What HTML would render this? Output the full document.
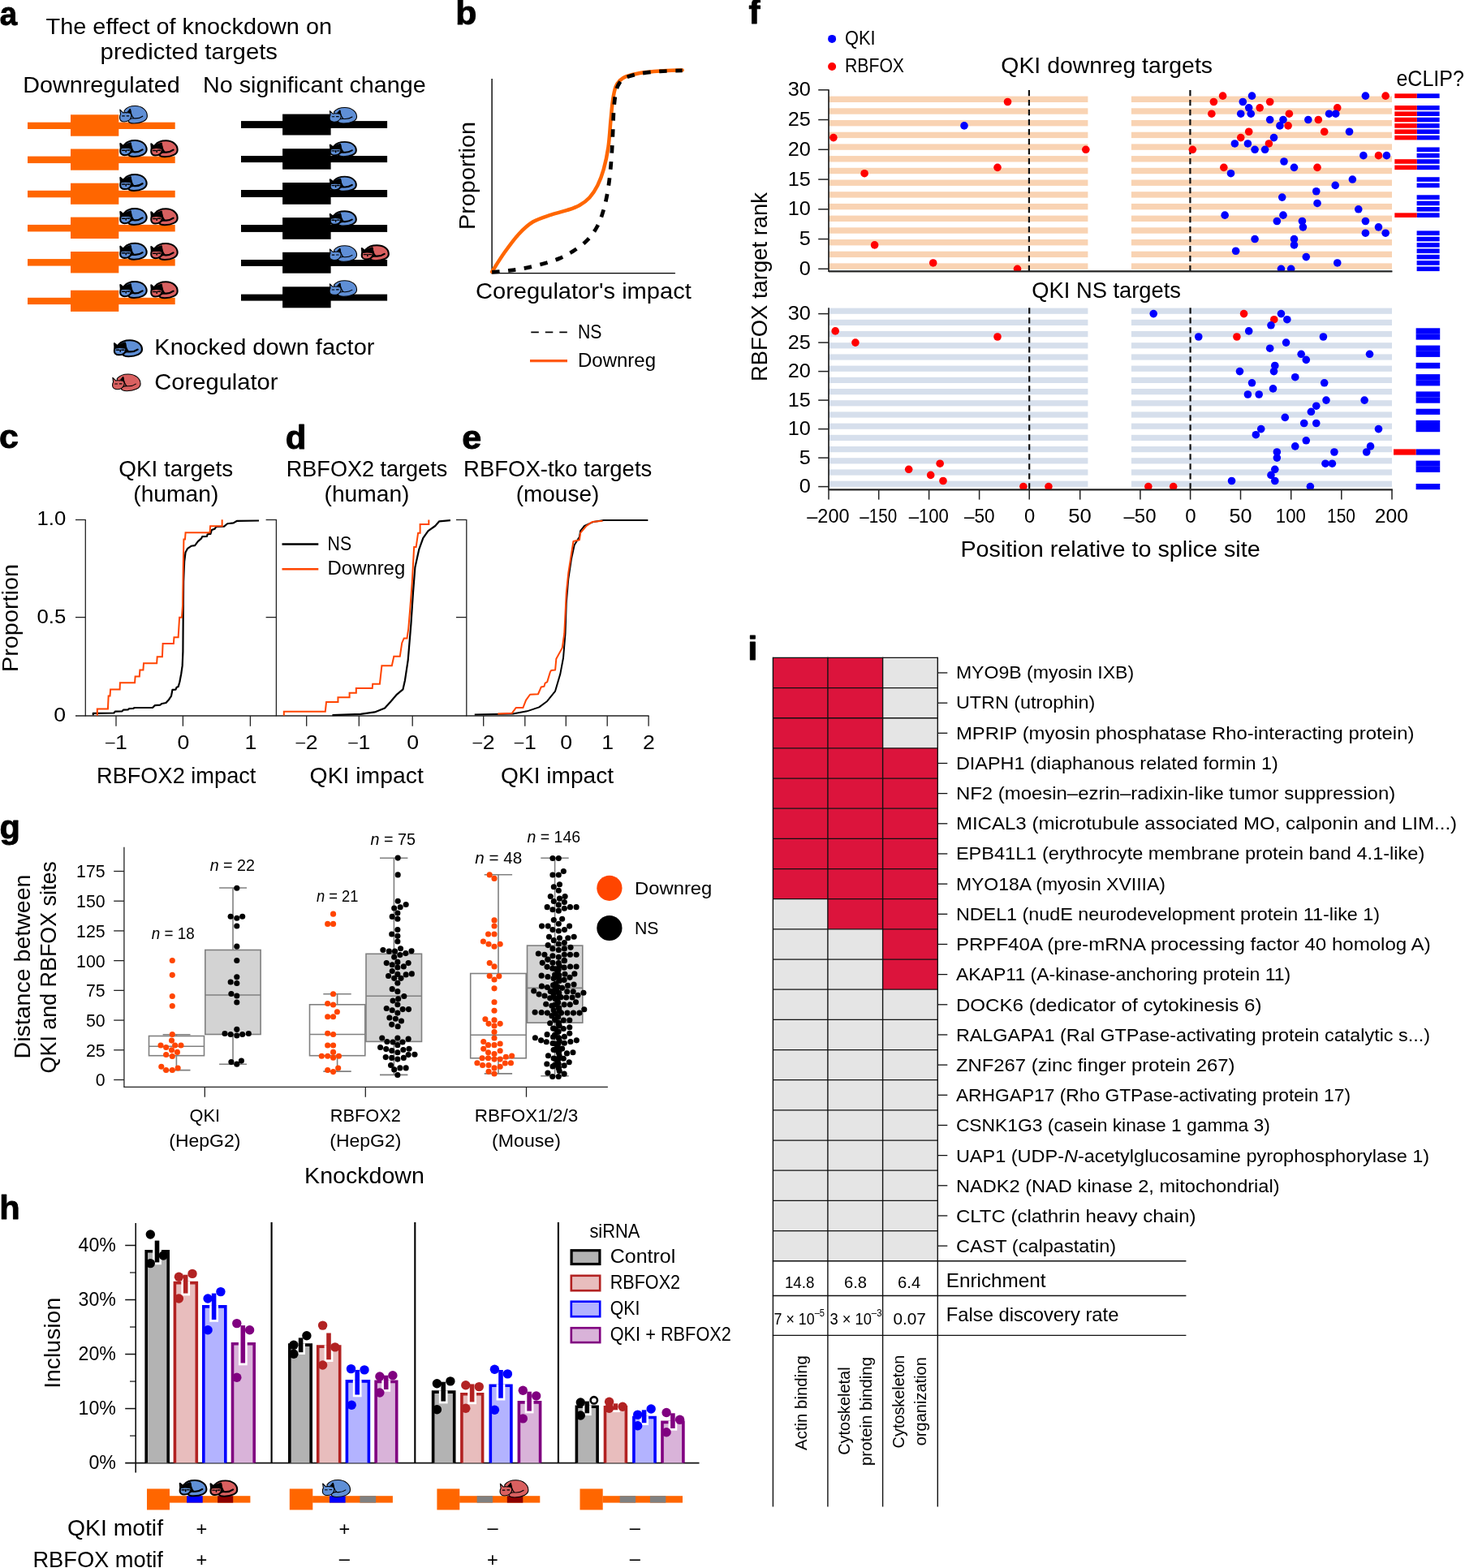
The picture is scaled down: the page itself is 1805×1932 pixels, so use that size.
<!DOCTYPE html>
<html lang="en"><head><meta charset="utf-8"><title>Figure</title>
<style>html,body{margin:0;padding:0;background:#fff}svg{display:block}text{font-family:'Liberation Sans', sans-serif;fill:#000}</style>
</head><body>
<svg width="1805" height="1932" viewBox="0 0 1805 1932">
<rect width="1805" height="1932" fill="#fff"/>
<defs>
<g id="catT" stroke="#000" stroke-width="1.1" stroke-linejoin="round" stroke-linecap="round">
<path d="M6.3 6.2 C9 2.6 14 0.6 19.5 0.6 C28 0.6 34.2 6 34.2 12.8 C34.2 18.3 27 21.8 18 21.8 C14.2 21.8 11.4 20.6 10.9 18.4 L6 14 Z"/>
<path d="M13.6 4.6 C14 8.5 15 12.5 17.6 15.6 C21 16.1 25.5 15.4 28.6 13.1" fill="none"/>
<path d="M11 18.2 C12 16.7 14.5 15.7 17.6 15.6" fill="none"/>
<path d="M0.7 14.8 C0.7 12.6 1.1 11.4 1.7 10.6 L1 5.1 L4.8 8.9 C6.3 8.5 8.2 8.5 9.6 8.8 L13.3 4.4 L14.5 10.7 C15 11.8 15 13.2 14.5 14.3 C13.6 17.4 10.2 19.8 6.2 19.8 C3 19.8 0.7 17.8 0.7 14.8 Z"/>
<path d="M10.6 8.6 L13.3 4.4 L14 9.6 Z" fill="#000" stroke-width="0.6"/>
<path d="M3.8 12.9 L6.4 12.9 M9.2 12.7 L11.8 12.7" fill="none" stroke-width="1.2"/>
</g>
<g id="catB" stroke="#000" stroke-width="2.1" stroke-linejoin="round" stroke-linecap="round">
<path d="M6.3 6.2 C9 2.6 14 0.9 19.5 0.9 C28 0.9 34 6 34 12.6 C34 18 27 21.5 18 21.5 C14.2 21.5 11.4 20.4 10.9 18.4 L6 14 Z"/>
<path d="M13.6 4.6 C14 8.5 15 12.5 17.6 15.4 C21 15.9 25.5 15 28.8 12.6" fill="none" stroke-width="2.3"/>
<path d="M11 18.2 C12 16.7 14.5 15.6 17.6 15.4" fill="none"/>
<path d="M0.9 14.8 C0.9 13 1.1 11.4 1.6 10.4 C4 9.6 11 9.6 14.6 10.6 C15 12 15 13.2 14.5 14.3 C13.6 17.4 10.2 19.6 6.2 19.6 C3 19.6 0.9 17.6 0.9 14.8 Z"/>
<path d="M1 5 L1.5 10.4 C4 9.6 11 9.6 14.6 10.6 L13.6 4.4 C11.6 4.8 9.6 5.6 8.4 6.6 L6.3 6.2 L4.6 8.2 Z" fill="#000"/>
<path d="M3.4 13.4 L6.4 13.4 M9.6 13.3 L12.6 13.3 M8 13.2 L8 15.4" fill="none" stroke-width="1.5"/>
</g>
</defs>
<text transform="translate(-0.35 30.5) scale(0.96 1)" x="0" y="0" font-size="40" font-weight="bold" stroke="#000" stroke-width="0.9" stroke-linejoin="round">a</text>
<text x="56.6" y="41.5" font-size="27.3" textLength="352.4" lengthAdjust="spacingAndGlyphs">The effect of knockdown on</text>
<text x="123.6" y="72.7" font-size="27.3" textLength="218.4" lengthAdjust="spacingAndGlyphs">predicted targets</text>
<text x="28.3" y="113.7" font-size="27.3" textLength="193.4" lengthAdjust="spacingAndGlyphs">Downregulated</text>
<text x="250" y="113.7" font-size="27.3" textLength="274.6" lengthAdjust="spacingAndGlyphs">No significant change</text>
<rect x="34" y="150.7" width="181.7" height="8.3" fill="#FF6600"/>
<rect x="87" y="141.3" width="59.3" height="26.4" fill="#FF6600"/>
<rect x="34" y="192.6" width="181.7" height="8.5" fill="#FF6600"/>
<rect x="87" y="183.5" width="59.3" height="26.2" fill="#FF6600"/>
<rect x="34" y="234.8" width="181.7" height="8.5" fill="#FF6600"/>
<rect x="87" y="225.7" width="59.3" height="26.1" fill="#FF6600"/>
<rect x="34" y="276.9" width="181.7" height="8.5" fill="#FF6600"/>
<rect x="87" y="267.6" width="59.3" height="26.4" fill="#FF6600"/>
<rect x="34" y="319.1" width="181.7" height="8.5" fill="#FF6600"/>
<rect x="87" y="310" width="59.3" height="26.4" fill="#FF6600"/>
<rect x="34" y="366.8" width="181.7" height="8.3" fill="#FF6600"/>
<rect x="87" y="357.7" width="59.3" height="26.2" fill="#FF6600"/>
<rect x="297" y="149.1" width="180.1" height="8.8" fill="#000"/>
<rect x="348.1" y="140.6" width="59.5" height="25.9" fill="#000"/>
<rect x="297" y="192" width="180.1" height="8.1" fill="#000"/>
<rect x="348.1" y="183.2" width="59.5" height="25.5" fill="#000"/>
<rect x="297" y="234" width="180.1" height="9" fill="#000"/>
<rect x="348.1" y="225" width="59.5" height="26.8" fill="#000"/>
<rect x="297" y="277" width="180.1" height="8.9" fill="#000"/>
<rect x="348.1" y="268.1" width="59.5" height="26.7" fill="#000"/>
<rect x="297" y="320" width="180.1" height="7.9" fill="#000"/>
<rect x="348.1" y="310.8" width="59.5" height="25.9" fill="#000"/>
<rect x="297" y="362.6" width="180.1" height="8" fill="#000"/>
<rect x="348.1" y="353.3" width="59.5" height="26" fill="#000"/>
<use href="#catT" fill="#5F8FD6" transform="translate(146.85 129.95) scale(1.01 1.01)"/>
<use href="#catB" fill="#5F8FD6" transform="translate(147.34 172.15) scale(0.98 0.97)"/>
<use href="#catB" fill="#D96060" transform="translate(185.34 172.45) scale(0.98 0.97)"/>
<use href="#catB" fill="#5F8FD6" transform="translate(147.34 214.05) scale(0.98 0.97)"/>
<use href="#catB" fill="#5F8FD6" transform="translate(147.34 256.15) scale(0.98 0.97)"/>
<use href="#catB" fill="#D96060" transform="translate(185.34 256.45) scale(0.98 0.97)"/>
<use href="#catB" fill="#5F8FD6" transform="translate(147.34 298.85) scale(0.98 0.97)"/>
<use href="#catB" fill="#D96060" transform="translate(185.34 299.15) scale(0.98 0.97)"/>
<use href="#catB" fill="#5F8FD6" transform="translate(147.34 346.15) scale(0.98 0.97)"/>
<use href="#catB" fill="#D96060" transform="translate(185.34 346.45) scale(0.98 0.97)"/>
<use href="#catT" fill="#5F8FD6" transform="translate(405.35 131.95) scale(1 0.92)"/>
<use href="#catB" fill="#5F8FD6" transform="translate(405.84 174.13) scale(0.97 0.88)"/>
<use href="#catB" fill="#5F8FD6" transform="translate(405.84 216.83) scale(0.97 0.88)"/>
<use href="#catB" fill="#5F8FD6" transform="translate(405.84 259.43) scale(0.97 0.88)"/>
<use href="#catT" fill="#5F8FD6" transform="translate(405.35 302.25) scale(1 0.92)"/>
<use href="#catT" fill="#5F8FD6" transform="translate(405.35 345.15) scale(1 0.92)"/>
<use href="#catB" fill="#D96060" transform="translate(444.85 301.34) scale(1 0.92)"/>
<use href="#catB" fill="#5F8FD6" transform="translate(139.96 418.34) scale(1.03 0.97)"/>
<use href="#catT" fill="#D96060" transform="translate(137.85 460.35) scale(1.03 0.98)"/>
<text x="190.3" y="437.2" font-size="27.3" textLength="271.2" lengthAdjust="spacingAndGlyphs">Knocked down factor</text>
<text x="190.3" y="480.4" font-size="27.3" textLength="152.2" lengthAdjust="spacingAndGlyphs">Coregulator</text>
<text transform="translate(561.14 30.2) scale(1.07 1)" x="0" y="0" font-size="40" font-weight="bold" stroke="#000" stroke-width="0.9" stroke-linejoin="round">b</text>
<line x1="606.1" y1="96.9" x2="606.1" y2="337.2" stroke="#000" stroke-width="1.4"/>
<line x1="605.4" y1="336.6" x2="832" y2="336.6" stroke="#000" stroke-width="1.4"/>
<path d="M606.09 334.91 C608.74 330.85 616.44 318.34 621.99 310.56 C627.54 302.77 633.58 294.41 639.38 288.2 C645.18 281.99 650.14 277.23 656.77 273.29 C663.4 269.36 672.09 267 679.13 264.6 C686.17 262.19 693.21 260.83 699.01 258.88 C704.8 256.94 709.36 255.49 713.91 252.92 C718.47 250.35 722.61 247.54 726.34 243.48 C730.06 239.42 733.37 234.37 736.27 228.57 C739.17 222.77 741.53 216.56 743.73 208.7 C745.92 200.83 747.99 191.3 749.44 181.37 C750.89 171.43 751.51 158.59 752.42 149.07 C753.33 139.54 753.87 131.26 754.91 124.22 C755.94 117.18 757.18 110.97 758.63 106.83 C760.08 102.69 761.53 101.45 763.6 99.38 C765.67 97.31 766.92 95.98 771.06 94.41 C775.2 92.84 781.41 91.1 788.45 89.94 C795.49 88.78 804.6 88.03 813.29 87.45 C821.99 86.87 836.07 86.63 840.62 86.46" fill="none" stroke="#FF6600" stroke-width="4.5" stroke-linecap="round"/>
<path d="M606.09 335.4 C609.57 335.07 620.17 334.24 626.96 333.42 C633.75 332.59 639.79 331.84 646.83 330.43 C653.87 329.03 662.15 326.96 669.19 324.97 C676.23 322.98 682.86 321.12 689.07 318.51 C695.28 315.9 700.66 313.13 706.46 309.32 C712.26 305.51 718.88 300.83 723.85 295.65 C728.82 290.48 732.96 284.47 736.27 278.26 C739.59 272.05 741.66 265.42 743.73 258.39 C745.8 251.35 747.33 243.89 748.7 236.02 C750.06 228.16 751.06 219.46 751.93 211.18 C752.8 202.9 753.37 194.62 753.91 186.34 C754.45 178.05 754.78 169.77 755.16 161.49 C755.53 153.21 755.57 144.51 756.15 136.65 C756.73 128.78 757.47 120 758.63 114.29 C759.79 108.57 761.04 105.47 763.11 102.36 C765.18 99.25 766.83 97.6 771.06 95.65 C775.28 93.71 781.41 91.97 788.45 90.68 C795.49 89.4 804.6 88.57 813.29 87.95 C821.99 87.33 836.07 87.12 840.62 86.96" fill="none" stroke="#000" stroke-width="4.7" stroke-dasharray="9.5 10.5"/>
<text x="0" y="0" font-size="27.3" text-anchor="middle" textLength="133" lengthAdjust="spacingAndGlyphs" transform="translate(585 216.5) rotate(-90)">Proportion</text>
<text x="586" y="368.4" font-size="27.3" textLength="265.8" lengthAdjust="spacingAndGlyphs">Coregulator&#x27;s impact</text>
<line x1="654.3" y1="409.4" x2="699" y2="409.4" stroke="#000" stroke-width="1.8" stroke-dasharray="9.5 8"/>
<text x="712" y="416.6" font-size="23.6" textLength="29.5" lengthAdjust="spacingAndGlyphs">NS</text>
<line x1="653" y1="444.7" x2="699" y2="444.7" stroke="#FF5A14" stroke-width="3.2"/>
<text x="712" y="451.6" font-size="23.6" textLength="96" lengthAdjust="spacingAndGlyphs">Downreg</text>
<text transform="translate(-0.88 552) scale(1.07 1)" x="0" y="0" font-size="40" font-weight="bold" stroke="#000" stroke-width="0.9" stroke-linejoin="round">c</text>
<text x="216.8" y="587" font-size="27.3" text-anchor="middle" textLength="141" lengthAdjust="spacingAndGlyphs">QKI targets</text>
<text x="216.8" y="618" font-size="27.3" text-anchor="middle" textLength="105" lengthAdjust="spacingAndGlyphs">(human)</text>
<text x="0" y="0" font-size="27.3" text-anchor="middle" textLength="133" lengthAdjust="spacingAndGlyphs" transform="translate(22.3 761.5) rotate(-90)">Proportion</text>
<line x1="105.3" y1="639.9" x2="105.3" y2="882.6" stroke="#222" stroke-width="1.3"/>
<line x1="93" y1="882" x2="340.4" y2="882" stroke="#222" stroke-width="1.3"/>
<line x1="93" y1="640.5" x2="105.3" y2="640.5" stroke="#222" stroke-width="1.3"/>
<line x1="93" y1="760.6" x2="105.3" y2="760.6" stroke="#222" stroke-width="1.3"/>
<line x1="143" y1="882" x2="143" y2="894.8" stroke="#222" stroke-width="1.3"/>
<line x1="225.4" y1="882" x2="225.4" y2="894.8" stroke="#222" stroke-width="1.3"/>
<line x1="308.4" y1="882" x2="308.4" y2="894.8" stroke="#222" stroke-width="1.3"/>
<text x="0" y="0" font-size="23.6" text-anchor="end" transform="translate(81.2 647.4) scale(1.09 1)">1.0</text>
<text x="0" y="0" font-size="23.6" text-anchor="end" transform="translate(81.2 767.6) scale(1.09 1)">0.5</text>
<text x="0" y="0" font-size="23.6" text-anchor="end" transform="translate(81.2 888.6) scale(1.13 1)">0</text>
<text x="0" y="0" font-size="23.6" text-anchor="middle" transform="translate(143.4 922.9) scale(1.13 1)"><tspan font-size="18.41" dy="-2.7">–</tspan><tspan dy="2.7" dx="0.6">1</tspan></text>
<text x="0" y="0" font-size="23.6" text-anchor="middle" transform="translate(225.8 922.9) scale(1.13 1)">0</text>
<text x="0" y="0" font-size="23.6" text-anchor="middle" transform="translate(308.8 922.9) scale(1.13 1)">1</text>
<text x="119" y="964.6" font-size="27.3" textLength="196.4" lengthAdjust="spacingAndGlyphs">RBFOX2 impact</text>
<polyline points="114.78,881.37 114.78,878.78 140.42,878.49 141.86,876.61 150.5,876.33 151.94,874.6 157.7,874.45 159.14,873.16 164.19,873.01 165.63,872.01 187.95,872.01 190.84,869.12 197.32,868.55 199.48,866.96 204.52,865.96 208.12,861.92 211,857.6 212.44,849.97 216.48,849.68 217.48,847.08 219.65,846.08 221.37,840.31 223.25,830.23 224.69,820.15 225.41,802.86 225.7,759.65 226.13,716.43 227.14,691.94 228.58,680.42 231.17,675.81 235.49,672.78 240.1,672.06 243.85,667.17 248.17,663.42 249.18,661.11 254.94,660.97 255.66,658.23 259.4,657.95 260.84,653.05 264.59,651.61 266.46,648.87 276.11,648.58 280.15,645.27 287.64,644.41 291.67,641.96 319.04,641.52" fill="none" stroke="#000" stroke-width="2.2" stroke-linejoin="round"/>
<polyline points="119.82,881.8 119.82,873.45 132.93,873.45 133.65,857.6 135.52,857.6 136.1,849.39 147.62,849.39 147.91,841.32 166.06,841.32 166.63,833.4 171.82,833.4 172.4,825.48 176.43,825.48 177.01,817.27 193.14,817.27 193.72,809.34 199.91,809.34 200.63,793.07 213.88,793.07 214.46,785.14 219.65,785.14 221.09,760.8 223.97,760.8 225.12,745.24 225.7,702.03 226.42,664.57 228,664.57 228.58,656.36 258.54,656.36 259.12,648.29 273.66,648.29 273.66,640.37" fill="none" stroke="#FF4500" stroke-width="2" stroke-linejoin="miter"/>
<text transform="translate(351.74 552.8) scale(1.05 1)" x="0" y="0" font-size="40" font-weight="bold" stroke="#000" stroke-width="0.9" stroke-linejoin="round">d</text>
<text x="352.8" y="587" font-size="27.3" textLength="198.4" lengthAdjust="spacingAndGlyphs">RBFOX2 targets</text>
<text x="452" y="618" font-size="27.3" text-anchor="middle" textLength="105" lengthAdjust="spacingAndGlyphs">(human)</text>
<line x1="340.4" y1="639.9" x2="340.4" y2="882.6" stroke="#222" stroke-width="1.3"/>
<line x1="340.4" y1="882" x2="575" y2="882" stroke="#222" stroke-width="1.3"/>
<line x1="327.6" y1="640.5" x2="340.4" y2="640.5" stroke="#222" stroke-width="1.3"/>
<line x1="327.6" y1="760.6" x2="340.4" y2="760.6" stroke="#222" stroke-width="1.3"/>
<line x1="377.7" y1="882" x2="377.7" y2="894.8" stroke="#222" stroke-width="1.3"/>
<line x1="442.3" y1="882" x2="442.3" y2="894.8" stroke="#222" stroke-width="1.3"/>
<line x1="508.2" y1="882" x2="508.2" y2="894.8" stroke="#222" stroke-width="1.3"/>
<text x="0" y="0" font-size="23.6" text-anchor="middle" transform="translate(378.1 922.9) scale(1.13 1)"><tspan font-size="18.41" dy="-2.7">–</tspan><tspan dy="2.7" dx="0.6">2</tspan></text>
<text x="0" y="0" font-size="23.6" text-anchor="middle" transform="translate(442.7 922.9) scale(1.13 1)"><tspan font-size="18.41" dy="-2.7">–</tspan><tspan dy="2.7" dx="0.6">1</tspan></text>
<text x="0" y="0" font-size="23.6" text-anchor="middle" transform="translate(508.6 922.9) scale(1.13 1)">0</text>
<text x="381.6" y="964.6" font-size="27.3" textLength="140.2" lengthAdjust="spacingAndGlyphs">QKI impact</text>
<line x1="347.5" y1="670.6" x2="392.3" y2="670.6" stroke="#000" stroke-width="2.5"/>
<text x="403.6" y="677.9" font-size="23.6" textLength="29.5" lengthAdjust="spacingAndGlyphs">NS</text>
<line x1="347.5" y1="701.3" x2="392.3" y2="701.3" stroke="#FF4500" stroke-width="2.5"/>
<text x="403.6" y="707.8" font-size="23.6" textLength="95.6" lengthAdjust="spacingAndGlyphs">Downreg</text>
<polyline points="349.83,881.67 349.83,876.7 400.79,876.7 402.03,865.02 416.45,865.02 416.45,859.3 430.61,859.3 430.61,853.83 438.82,853.83 438.82,848.11 458.7,848.11 459.2,842.64 467.9,842.64 470.39,820.27 482.81,820.27 485.3,808.84 492.76,808.84 495.24,792.18 497.73,786.47 501.46,786.47 503.2,774.78 505.19,751.17 507.67,718.86 510.16,674.11 512.64,674.11 515.13,656.71 517.61,656.71 517.61,646.03 528.3,646.03 528.3,640.56" fill="none" stroke="#FF4500" stroke-width="2"/>
<polyline points="409.49,881.17 444.29,879.93 461.69,877.44 474.11,872.47 481.57,864.27 489.03,855.57 496.49,849.36 498.97,838.17 502.7,813.31 506.43,768.57 508.91,731.29 511.4,698.97 516.37,676.6 521.34,662.93 527.56,654.23 536.26,648.01 541.23,642.3 554.9,641.05" fill="none" stroke="#000" stroke-width="2.2" stroke-linejoin="round"/>
<text transform="translate(569.2 553) scale(1.08 1)" x="0" y="0" font-size="40" font-weight="bold" stroke="#000" stroke-width="0.9" stroke-linejoin="round">e</text>
<text x="571.1" y="587" font-size="27.3" textLength="232.2" lengthAdjust="spacingAndGlyphs">RBFOX-tko targets</text>
<text x="687" y="618" font-size="27.3" text-anchor="middle" textLength="102.5" lengthAdjust="spacingAndGlyphs">(mouse)</text>
<line x1="574.8" y1="639.9" x2="574.8" y2="882.6" stroke="#222" stroke-width="1.3"/>
<line x1="574.8" y1="882" x2="799.6" y2="882" stroke="#222" stroke-width="1.3"/>
<line x1="562" y1="640.5" x2="574.8" y2="640.5" stroke="#222" stroke-width="1.3"/>
<line x1="562" y1="760.6" x2="574.8" y2="760.6" stroke="#222" stroke-width="1.3"/>
<line x1="595.7" y1="882" x2="595.7" y2="894.8" stroke="#222" stroke-width="1.3"/>
<line x1="646.8" y1="882" x2="646.8" y2="894.8" stroke="#222" stroke-width="1.3"/>
<line x1="697.3" y1="882" x2="697.3" y2="894.8" stroke="#222" stroke-width="1.3"/>
<line x1="748.2" y1="882" x2="748.2" y2="894.8" stroke="#222" stroke-width="1.3"/>
<line x1="799.1" y1="882" x2="799.1" y2="894.8" stroke="#222" stroke-width="1.3"/>
<text x="0" y="0" font-size="23.6" text-anchor="middle" transform="translate(596.1 922.9) scale(1.13 1)"><tspan font-size="18.41" dy="-2.7">–</tspan><tspan dy="2.7" dx="0.6">2</tspan></text>
<text x="0" y="0" font-size="23.6" text-anchor="middle" transform="translate(647.2 922.9) scale(1.13 1)"><tspan font-size="18.41" dy="-2.7">–</tspan><tspan dy="2.7" dx="0.6">1</tspan></text>
<text x="0" y="0" font-size="23.6" text-anchor="middle" transform="translate(697.7 922.9) scale(1.13 1)">0</text>
<text x="0" y="0" font-size="23.6" text-anchor="middle" transform="translate(748.6 922.9) scale(1.13 1)">1</text>
<text x="0" y="0" font-size="23.6" text-anchor="middle" transform="translate(799.5 922.9) scale(1.13 1)">2</text>
<text x="617" y="964.6" font-size="27.3" textLength="139.1" lengthAdjust="spacingAndGlyphs">QKI impact</text>
<polyline points="584.77,880.57 631.95,879.57 649.33,876.34 664.23,871.38 674.16,863.93 684.09,851.51 690.3,830.4 694.03,810.54 696.51,780.74 697.75,743.49 700.24,713.69 703.96,688.86 707.69,671.48 713.89,661.54 715.14,654.09 720.1,647.89 731.28,642.92 743.69,640.93 798.32,640.93" fill="none" stroke="#000" stroke-width="2" stroke-linejoin="round"/>
<polyline points="613.32,879.57 630.71,878.83 635.67,872.12 644.36,872.12 648.09,862.69 653.05,855.73 662.99,855.24 666.71,846.55 670.44,845.8 671.68,841.58 674.16,840.34 677.89,827.92 679.13,825.93 684.09,825.44 685.34,811.78 692.79,798.12 695.27,780.74 697.75,731.08 700.24,706.24 706.44,667.01 713.89,665.27 715.14,656.58 722.59,647.89 730.03,642.92 742.45,641.68" fill="none" stroke="#FF4500" stroke-width="2" stroke-linejoin="round"/>
<text transform="translate(922.58 29.3) scale(1.05 1)" x="0" y="0" font-size="40" font-weight="bold" stroke="#000" stroke-width="0.9" stroke-linejoin="round">f</text>
<circle cx="1025.1" cy="47.9" r="5" fill="#0000FF"/>
<text x="1041" y="54.8" font-size="23.6" textLength="37.6" lengthAdjust="spacingAndGlyphs">QKI</text>
<circle cx="1025.1" cy="82" r="5" fill="#FF0000"/>
<text x="1041" y="88.9" font-size="23.6" textLength="73" lengthAdjust="spacingAndGlyphs">RBFOX</text>
<text x="1233.3" y="90.2" font-size="27.3" textLength="260.7" lengthAdjust="spacingAndGlyphs">QKI downreg targets</text>
<text x="1720.4" y="106" font-size="27.3" textLength="83.5" lengthAdjust="spacingAndGlyphs">eCLIP?</text>
<text x="1271.3" y="366.7" font-size="27.3" textLength="183.7" lengthAdjust="spacingAndGlyphs">QKI NS targets</text>
<text x="1183.4" y="685.6" font-size="27.3" textLength="369.3" lengthAdjust="spacingAndGlyphs">Position relative to splice site</text>
<text x="0" y="0" font-size="27.3" text-anchor="middle" textLength="233" lengthAdjust="spacingAndGlyphs" transform="translate(945.3 353.5) rotate(-90)">RBFOX target rank</text>
<rect x="1021" y="324.4" width="319.4" height="7.4" fill="#F9D3B3"/>
<rect x="1393.9" y="324.4" width="321.1" height="7.4" fill="#F9D3B3"/>
<rect x="1021" y="309.7" width="319.4" height="7.4" fill="#F9D3B3"/>
<rect x="1393.9" y="309.7" width="321.1" height="7.4" fill="#F9D3B3"/>
<rect x="1021" y="295" width="319.4" height="7.4" fill="#F9D3B3"/>
<rect x="1393.9" y="295" width="321.1" height="7.4" fill="#F9D3B3"/>
<rect x="1021" y="280.3" width="319.4" height="7.4" fill="#F9D3B3"/>
<rect x="1393.9" y="280.3" width="321.1" height="7.4" fill="#F9D3B3"/>
<rect x="1021" y="265.6" width="319.4" height="7.4" fill="#F9D3B3"/>
<rect x="1393.9" y="265.6" width="321.1" height="7.4" fill="#F9D3B3"/>
<rect x="1021" y="250.9" width="319.4" height="7.4" fill="#F9D3B3"/>
<rect x="1393.9" y="250.9" width="321.1" height="7.4" fill="#F9D3B3"/>
<rect x="1021" y="236.2" width="319.4" height="7.4" fill="#F9D3B3"/>
<rect x="1393.9" y="236.2" width="321.1" height="7.4" fill="#F9D3B3"/>
<rect x="1021" y="221.5" width="319.4" height="7.4" fill="#F9D3B3"/>
<rect x="1393.9" y="221.5" width="321.1" height="7.4" fill="#F9D3B3"/>
<rect x="1021" y="206.8" width="319.4" height="7.4" fill="#F9D3B3"/>
<rect x="1393.9" y="206.8" width="321.1" height="7.4" fill="#F9D3B3"/>
<rect x="1021" y="192.1" width="319.4" height="7.4" fill="#F9D3B3"/>
<rect x="1393.9" y="192.1" width="321.1" height="7.4" fill="#F9D3B3"/>
<rect x="1021" y="177.4" width="319.4" height="7.4" fill="#F9D3B3"/>
<rect x="1393.9" y="177.4" width="321.1" height="7.4" fill="#F9D3B3"/>
<rect x="1021" y="162.7" width="319.4" height="7.4" fill="#F9D3B3"/>
<rect x="1393.9" y="162.7" width="321.1" height="7.4" fill="#F9D3B3"/>
<rect x="1021" y="148" width="319.4" height="7.4" fill="#F9D3B3"/>
<rect x="1393.9" y="148" width="321.1" height="7.4" fill="#F9D3B3"/>
<rect x="1021" y="133.3" width="319.4" height="7.4" fill="#F9D3B3"/>
<rect x="1393.9" y="133.3" width="321.1" height="7.4" fill="#F9D3B3"/>
<rect x="1021" y="118.6" width="319.4" height="7.4" fill="#F9D3B3"/>
<rect x="1393.9" y="118.6" width="321.1" height="7.4" fill="#F9D3B3"/>
<line x1="1021" y1="110.2" x2="1021" y2="335.1" stroke="#222" stroke-width="1.7"/>
<line x1="1021" y1="334.4" x2="1715.3" y2="334.4" stroke="#222" stroke-width="1.6"/>
<line x1="1008.2" y1="331.3" x2="1021" y2="331.3" stroke="#222" stroke-width="1.5"/>
<text x="0" y="0" font-size="24.3" text-anchor="end" transform="translate(998.8 338.9) scale(1.04 1)">0</text>
<line x1="1008.2" y1="294.55" x2="1021" y2="294.55" stroke="#222" stroke-width="1.5"/>
<text x="0" y="0" font-size="24.3" text-anchor="end" transform="translate(998.8 302.15) scale(1.04 1)">5</text>
<line x1="1008.2" y1="257.8" x2="1021" y2="257.8" stroke="#222" stroke-width="1.5"/>
<text x="0" y="0" font-size="24.3" text-anchor="end" transform="translate(998.8 265.4) scale(1.04 1)">10</text>
<line x1="1008.2" y1="221.05" x2="1021" y2="221.05" stroke="#222" stroke-width="1.5"/>
<text x="0" y="0" font-size="24.3" text-anchor="end" transform="translate(998.8 228.65) scale(1.04 1)">15</text>
<line x1="1008.2" y1="184.3" x2="1021" y2="184.3" stroke="#222" stroke-width="1.5"/>
<text x="0" y="0" font-size="24.3" text-anchor="end" transform="translate(998.8 191.9) scale(1.04 1)">20</text>
<line x1="1008.2" y1="147.55" x2="1021" y2="147.55" stroke="#222" stroke-width="1.5"/>
<text x="0" y="0" font-size="24.3" text-anchor="end" transform="translate(998.8 155.15) scale(1.04 1)">25</text>
<line x1="1008.2" y1="110.8" x2="1021" y2="110.8" stroke="#222" stroke-width="1.5"/>
<text x="0" y="0" font-size="24.3" text-anchor="end" transform="translate(998.8 118.4) scale(1.04 1)">30</text>
<line x1="1267.9" y1="110.9" x2="1267.9" y2="334.4" stroke="#111" stroke-width="2.2" stroke-dasharray="7.4 4.6"/>
<line x1="1466.4" y1="110.9" x2="1466.4" y2="334.4" stroke="#111" stroke-width="2.2" stroke-dasharray="7.4 4.6"/>
<rect x="1745.6" y="115.35" width="28" height="5.6" fill="#0000FF"/>
<rect x="1745.6" y="130.05" width="28" height="5.6" fill="#0000FF"/>
<rect x="1745.6" y="137.4" width="28" height="5.6" fill="#0000FF"/>
<rect x="1745.6" y="144.75" width="28" height="5.6" fill="#0000FF"/>
<rect x="1745.6" y="152.1" width="28" height="5.6" fill="#0000FF"/>
<rect x="1745.6" y="159.45" width="28" height="5.6" fill="#0000FF"/>
<rect x="1745.6" y="166.8" width="28" height="5.6" fill="#0000FF"/>
<rect x="1745.6" y="181.5" width="28" height="5.6" fill="#0000FF"/>
<rect x="1745.6" y="188.85" width="28" height="5.6" fill="#0000FF"/>
<rect x="1745.6" y="196.2" width="28" height="5.6" fill="#0000FF"/>
<rect x="1745.6" y="203.55" width="28" height="5.6" fill="#0000FF"/>
<rect x="1745.6" y="218.25" width="28" height="5.6" fill="#0000FF"/>
<rect x="1745.6" y="225.6" width="28" height="5.6" fill="#0000FF"/>
<rect x="1745.6" y="240.3" width="28" height="5.6" fill="#0000FF"/>
<rect x="1745.6" y="247.65" width="28" height="5.6" fill="#0000FF"/>
<rect x="1745.6" y="255" width="28" height="5.6" fill="#0000FF"/>
<rect x="1745.6" y="262.35" width="28" height="5.6" fill="#0000FF"/>
<rect x="1745.6" y="284.4" width="28" height="5.6" fill="#0000FF"/>
<rect x="1745.6" y="291.75" width="28" height="5.6" fill="#0000FF"/>
<rect x="1745.6" y="299.1" width="28" height="5.6" fill="#0000FF"/>
<rect x="1745.6" y="306.45" width="28" height="5.6" fill="#0000FF"/>
<rect x="1745.6" y="313.8" width="28" height="5.6" fill="#0000FF"/>
<rect x="1745.6" y="321.15" width="28" height="5.6" fill="#0000FF"/>
<rect x="1745.6" y="328.5" width="28" height="5.6" fill="#0000FF"/>
<rect x="1718.3" y="115.35" width="27.4" height="5.6" fill="#FF0000"/>
<rect x="1718.3" y="130.05" width="27.4" height="5.6" fill="#FF0000"/>
<rect x="1718.3" y="137.4" width="27.4" height="5.6" fill="#FF0000"/>
<rect x="1718.3" y="144.75" width="27.4" height="5.6" fill="#FF0000"/>
<rect x="1718.3" y="152.1" width="27.4" height="5.6" fill="#FF0000"/>
<rect x="1718.3" y="159.45" width="27.4" height="5.6" fill="#FF0000"/>
<rect x="1718.3" y="166.8" width="27.4" height="5.6" fill="#FF0000"/>
<rect x="1718.3" y="196.2" width="27.4" height="5.6" fill="#FF0000"/>
<rect x="1718.3" y="203.55" width="27.4" height="5.6" fill="#FF0000"/>
<rect x="1718.3" y="262.35" width="27.4" height="5.6" fill="#FF0000"/>
<clipPath id="cpf1"><rect x="1000" y="100" width="760" height="234.7"/></clipPath><g clip-path="url(#cpf1)">
<circle cx="1241.5" cy="125.5" r="4.8" fill="#FF0000"/>
<circle cx="1188" cy="154.9" r="4.8" fill="#0000FF"/>
<circle cx="1026.9" cy="169.6" r="4.8" fill="#FF0000"/>
<circle cx="1337.8" cy="184.3" r="4.8" fill="#FF0000"/>
<circle cx="1229" cy="206.35" r="4.8" fill="#FF0000"/>
<circle cx="1065.1" cy="213.7" r="4.8" fill="#FF0000"/>
<circle cx="1077.6" cy="301.9" r="4.8" fill="#FF0000"/>
<circle cx="1149.7" cy="323.95" r="4.8" fill="#FF0000"/>
<circle cx="1253.5" cy="331.3" r="4.8" fill="#FF0000"/>
<circle cx="1506.57" cy="118.15" r="4.8" fill="#FF0000"/>
<circle cx="1707.13" cy="118.15" r="4.8" fill="#FF0000"/>
<circle cx="1542.5" cy="118.15" r="4.8" fill="#0000FF"/>
<circle cx="1682.41" cy="118.15" r="4.8" fill="#0000FF"/>
<circle cx="1495.36" cy="125.5" r="4.8" fill="#FF0000"/>
<circle cx="1564.67" cy="125.5" r="4.8" fill="#FF0000"/>
<circle cx="1531.29" cy="125.5" r="4.8" fill="#0000FF"/>
<circle cx="1552.19" cy="132.85" r="4.8" fill="#FF0000"/>
<circle cx="1647.75" cy="132.85" r="4.8" fill="#FF0000"/>
<circle cx="1538.68" cy="132.85" r="4.8" fill="#0000FF"/>
<circle cx="1492.81" cy="140.2" r="4.8" fill="#FF0000"/>
<circle cx="1588.37" cy="140.2" r="4.8" fill="#FF0000"/>
<circle cx="1528.74" cy="140.2" r="4.8" fill="#0000FF"/>
<circle cx="1541.23" cy="140.2" r="4.8" fill="#0000FF"/>
<circle cx="1637.56" cy="140.2" r="4.8" fill="#0000FF"/>
<circle cx="1645.71" cy="140.2" r="4.8" fill="#0000FF"/>
<circle cx="1624.31" cy="147.55" r="4.8" fill="#FF0000"/>
<circle cx="1564.67" cy="147.55" r="4.8" fill="#0000FF"/>
<circle cx="1580.98" cy="147.55" r="4.8" fill="#0000FF"/>
<circle cx="1611.82" cy="147.55" r="4.8" fill="#0000FF"/>
<circle cx="1587.1" cy="154.9" r="4.8" fill="#FF0000"/>
<circle cx="1576.91" cy="154.9" r="4.8" fill="#0000FF"/>
<circle cx="1538.68" cy="162.25" r="4.8" fill="#FF0000"/>
<circle cx="1631.7" cy="162.25" r="4.8" fill="#FF0000"/>
<circle cx="1662.53" cy="162.25" r="4.8" fill="#0000FF"/>
<circle cx="1528.74" cy="169.6" r="4.8" fill="#FF0000"/>
<circle cx="1569.52" cy="169.6" r="4.8" fill="#0000FF"/>
<circle cx="1563.4" cy="176.95" r="4.8" fill="#FF0000"/>
<circle cx="1521.35" cy="176.95" r="4.8" fill="#0000FF"/>
<circle cx="1537.41" cy="176.95" r="4.8" fill="#0000FF"/>
<circle cx="1469.36" cy="184.3" r="4.8" fill="#FF0000"/>
<circle cx="1546.07" cy="184.3" r="4.8" fill="#0000FF"/>
<circle cx="1558.56" cy="184.3" r="4.8" fill="#0000FF"/>
<circle cx="1698.47" cy="191.65" r="4.8" fill="#FF0000"/>
<circle cx="1679.86" cy="191.65" r="4.8" fill="#0000FF"/>
<circle cx="1708.4" cy="191.65" r="4.8" fill="#0000FF"/>
<circle cx="1582" cy="199" r="4.8" fill="#0000FF"/>
<circle cx="1507.84" cy="206.35" r="4.8" fill="#FF0000"/>
<circle cx="1623.03" cy="206.35" r="4.8" fill="#FF0000"/>
<circle cx="1594.49" cy="206.35" r="4.8" fill="#0000FF"/>
<circle cx="1516.51" cy="213.7" r="4.8" fill="#0000FF"/>
<circle cx="1666.36" cy="221.05" r="4.8" fill="#0000FF"/>
<circle cx="1645.2" cy="228.4" r="4.8" fill="#0000FF"/>
<circle cx="1621.76" cy="235.75" r="4.8" fill="#0000FF"/>
<circle cx="1579.71" cy="243.1" r="4.8" fill="#0000FF"/>
<circle cx="1623.03" cy="250.45" r="4.8" fill="#0000FF"/>
<circle cx="1673.75" cy="257.8" r="4.8" fill="#0000FF"/>
<circle cx="1509.12" cy="265.15" r="4.8" fill="#0000FF"/>
<circle cx="1580.98" cy="265.15" r="4.8" fill="#0000FF"/>
<circle cx="1573.34" cy="272.5" r="4.8" fill="#0000FF"/>
<circle cx="1604.43" cy="272.5" r="4.8" fill="#0000FF"/>
<circle cx="1682.41" cy="272.5" r="4.8" fill="#0000FF"/>
<circle cx="1605.45" cy="279.85" r="4.8" fill="#0000FF"/>
<circle cx="1698.47" cy="279.85" r="4.8" fill="#0000FF"/>
<circle cx="1682.41" cy="287.2" r="4.8" fill="#0000FF"/>
<circle cx="1707.13" cy="287.2" r="4.8" fill="#0000FF"/>
<circle cx="1546.07" cy="294.55" r="4.8" fill="#0000FF"/>
<circle cx="1594.49" cy="294.55" r="4.8" fill="#0000FF"/>
<circle cx="1594.49" cy="301.9" r="4.8" fill="#0000FF"/>
<circle cx="1522.62" cy="309.25" r="4.8" fill="#0000FF"/>
<circle cx="1609.27" cy="316.6" r="4.8" fill="#0000FF"/>
<circle cx="1647.75" cy="323.95" r="4.8" fill="#0000FF"/>
<circle cx="1578.44" cy="331.3" r="4.8" fill="#0000FF"/>
<circle cx="1590.67" cy="331.3" r="4.8" fill="#0000FF"/>
</g>
<line x1="1021" y1="334.4" x2="1715.3" y2="334.4" stroke="#222" stroke-width="1.6"/>
<rect x="1021" y="592.6" width="319.4" height="7.2" fill="#D6DFEC"/>
<rect x="1393.9" y="592.6" width="321.1" height="7.2" fill="#D6DFEC"/>
<rect x="1021" y="578.4" width="319.4" height="7.2" fill="#D6DFEC"/>
<rect x="1393.9" y="578.4" width="321.1" height="7.2" fill="#D6DFEC"/>
<rect x="1021" y="564.2" width="319.4" height="7.2" fill="#D6DFEC"/>
<rect x="1393.9" y="564.2" width="321.1" height="7.2" fill="#D6DFEC"/>
<rect x="1021" y="550" width="319.4" height="7.2" fill="#D6DFEC"/>
<rect x="1393.9" y="550" width="321.1" height="7.2" fill="#D6DFEC"/>
<rect x="1021" y="535.8" width="319.4" height="7.2" fill="#D6DFEC"/>
<rect x="1393.9" y="535.8" width="321.1" height="7.2" fill="#D6DFEC"/>
<rect x="1021" y="521.6" width="319.4" height="7.2" fill="#D6DFEC"/>
<rect x="1393.9" y="521.6" width="321.1" height="7.2" fill="#D6DFEC"/>
<rect x="1021" y="507.4" width="319.4" height="7.2" fill="#D6DFEC"/>
<rect x="1393.9" y="507.4" width="321.1" height="7.2" fill="#D6DFEC"/>
<rect x="1021" y="493.2" width="319.4" height="7.2" fill="#D6DFEC"/>
<rect x="1393.9" y="493.2" width="321.1" height="7.2" fill="#D6DFEC"/>
<rect x="1021" y="479" width="319.4" height="7.2" fill="#D6DFEC"/>
<rect x="1393.9" y="479" width="321.1" height="7.2" fill="#D6DFEC"/>
<rect x="1021" y="464.8" width="319.4" height="7.2" fill="#D6DFEC"/>
<rect x="1393.9" y="464.8" width="321.1" height="7.2" fill="#D6DFEC"/>
<rect x="1021" y="450.6" width="319.4" height="7.2" fill="#D6DFEC"/>
<rect x="1393.9" y="450.6" width="321.1" height="7.2" fill="#D6DFEC"/>
<rect x="1021" y="436.4" width="319.4" height="7.2" fill="#D6DFEC"/>
<rect x="1393.9" y="436.4" width="321.1" height="7.2" fill="#D6DFEC"/>
<rect x="1021" y="422.2" width="319.4" height="7.2" fill="#D6DFEC"/>
<rect x="1393.9" y="422.2" width="321.1" height="7.2" fill="#D6DFEC"/>
<rect x="1021" y="408" width="319.4" height="7.2" fill="#D6DFEC"/>
<rect x="1393.9" y="408" width="321.1" height="7.2" fill="#D6DFEC"/>
<rect x="1021" y="393.8" width="319.4" height="7.2" fill="#D6DFEC"/>
<rect x="1393.9" y="393.8" width="321.1" height="7.2" fill="#D6DFEC"/>
<rect x="1021" y="379.6" width="319.4" height="7.2" fill="#D6DFEC"/>
<rect x="1393.9" y="379.6" width="321.1" height="7.2" fill="#D6DFEC"/>
<line x1="1021" y1="379.2" x2="1021" y2="604.1" stroke="#222" stroke-width="1.7"/>
<line x1="1021" y1="603.4" x2="1715.7" y2="603.4" stroke="#222" stroke-width="1.6"/>
<line x1="1008.2" y1="599.6" x2="1021" y2="599.6" stroke="#222" stroke-width="1.5"/>
<text x="0" y="0" font-size="24.3" text-anchor="end" transform="translate(998.8 607.2) scale(1.04 1)">0</text>
<line x1="1008.2" y1="564.1" x2="1021" y2="564.1" stroke="#222" stroke-width="1.5"/>
<text x="0" y="0" font-size="24.3" text-anchor="end" transform="translate(998.8 571.7) scale(1.04 1)">5</text>
<line x1="1008.2" y1="528.6" x2="1021" y2="528.6" stroke="#222" stroke-width="1.5"/>
<text x="0" y="0" font-size="24.3" text-anchor="end" transform="translate(998.8 536.2) scale(1.04 1)">10</text>
<line x1="1008.2" y1="493.1" x2="1021" y2="493.1" stroke="#222" stroke-width="1.5"/>
<text x="0" y="0" font-size="24.3" text-anchor="end" transform="translate(998.8 500.7) scale(1.04 1)">15</text>
<line x1="1008.2" y1="457.6" x2="1021" y2="457.6" stroke="#222" stroke-width="1.5"/>
<text x="0" y="0" font-size="24.3" text-anchor="end" transform="translate(998.8 465.2) scale(1.04 1)">20</text>
<line x1="1008.2" y1="422.1" x2="1021" y2="422.1" stroke="#222" stroke-width="1.5"/>
<text x="0" y="0" font-size="24.3" text-anchor="end" transform="translate(998.8 429.7) scale(1.04 1)">25</text>
<line x1="1008.2" y1="386.6" x2="1021" y2="386.6" stroke="#222" stroke-width="1.5"/>
<text x="0" y="0" font-size="24.3" text-anchor="end" transform="translate(998.8 394.2) scale(1.04 1)">30</text>
<line x1="1268.2" y1="379.2" x2="1268.2" y2="603.4" stroke="#111" stroke-width="2.2" stroke-dasharray="7.4 4.6"/>
<line x1="1466.6" y1="379.2" x2="1466.6" y2="603.4" stroke="#111" stroke-width="2.2" stroke-dasharray="7.4 4.6"/>
<line x1="1021" y1="603.4" x2="1021" y2="615.6" stroke="#222" stroke-width="1.5"/>
<text x="1020.4" y="644" font-size="23.6" text-anchor="middle" textLength="52.2" lengthAdjust="spacingAndGlyphs">–200</text>
<line x1="1082.7" y1="603.4" x2="1082.7" y2="615.6" stroke="#222" stroke-width="1.5"/>
<text x="1082.2" y="644" font-size="23.6" text-anchor="middle" textLength="45.8" lengthAdjust="spacingAndGlyphs">–150</text>
<line x1="1144.6" y1="603.4" x2="1144.6" y2="615.6" stroke="#222" stroke-width="1.5"/>
<text x="1144.3" y="644" font-size="23.6" text-anchor="middle" textLength="49.2" lengthAdjust="spacingAndGlyphs">–100</text>
<line x1="1206.6" y1="603.4" x2="1206.6" y2="615.6" stroke="#222" stroke-width="1.5"/>
<text x="1206.8" y="644" font-size="23.6" text-anchor="middle" textLength="37.7" lengthAdjust="spacingAndGlyphs">–50</text>
<line x1="1268.2" y1="603.4" x2="1268.2" y2="615.6" stroke="#222" stroke-width="1.5"/>
<text x="1268.5" y="644" font-size="23.6" text-anchor="middle" textLength="13.2" lengthAdjust="spacingAndGlyphs">0</text>
<line x1="1330.7" y1="603.4" x2="1330.7" y2="615.6" stroke="#222" stroke-width="1.5"/>
<text x="1330.5" y="644" font-size="23.6" text-anchor="middle" textLength="28.5" lengthAdjust="spacingAndGlyphs">50</text>
<line x1="1404.9" y1="603.4" x2="1404.9" y2="615.6" stroke="#222" stroke-width="1.5"/>
<text x="1404.5" y="644" font-size="23.6" text-anchor="middle" textLength="40" lengthAdjust="spacingAndGlyphs">–50</text>
<line x1="1466.6" y1="603.4" x2="1466.6" y2="615.6" stroke="#222" stroke-width="1.5"/>
<text x="1466.9" y="644" font-size="23.6" text-anchor="middle" textLength="13.4" lengthAdjust="spacingAndGlyphs">0</text>
<line x1="1528.5" y1="603.4" x2="1528.5" y2="615.6" stroke="#222" stroke-width="1.5"/>
<text x="1528.5" y="644" font-size="23.6" text-anchor="middle" textLength="28" lengthAdjust="spacingAndGlyphs">50</text>
<line x1="1590.7" y1="603.4" x2="1590.7" y2="615.6" stroke="#222" stroke-width="1.5"/>
<text x="1590.3" y="644" font-size="23.6" text-anchor="middle" textLength="37" lengthAdjust="spacingAndGlyphs">100</text>
<line x1="1652.8" y1="603.4" x2="1652.8" y2="615.6" stroke="#222" stroke-width="1.5"/>
<text x="1652.5" y="644" font-size="23.6" text-anchor="middle" textLength="35" lengthAdjust="spacingAndGlyphs">150</text>
<line x1="1715" y1="603.4" x2="1715" y2="615.6" stroke="#222" stroke-width="1.5"/>
<text x="1714.3" y="644" font-size="23.6" text-anchor="middle" textLength="41.3" lengthAdjust="spacingAndGlyphs">200</text>
<rect x="1744.6" y="404.3" width="29.6" height="7.2" fill="#0000FF"/>
<rect x="1744.6" y="411.4" width="29.6" height="7.2" fill="#0000FF"/>
<rect x="1744.6" y="425.6" width="29.6" height="7.2" fill="#0000FF"/>
<rect x="1744.6" y="432.7" width="29.6" height="7.2" fill="#0000FF"/>
<rect x="1744.6" y="446.9" width="29.6" height="7.2" fill="#0000FF"/>
<rect x="1744.6" y="461.1" width="29.6" height="7.2" fill="#0000FF"/>
<rect x="1744.6" y="468.2" width="29.6" height="7.2" fill="#0000FF"/>
<rect x="1744.6" y="482.4" width="29.6" height="7.2" fill="#0000FF"/>
<rect x="1744.6" y="489.5" width="29.6" height="7.2" fill="#0000FF"/>
<rect x="1744.6" y="503.7" width="29.6" height="7.2" fill="#0000FF"/>
<rect x="1744.6" y="517.9" width="29.6" height="7.2" fill="#0000FF"/>
<rect x="1744.6" y="525" width="29.6" height="7.2" fill="#0000FF"/>
<rect x="1744.6" y="553.4" width="29.6" height="7.2" fill="#0000FF"/>
<rect x="1744.6" y="567.6" width="29.6" height="7.2" fill="#0000FF"/>
<rect x="1744.6" y="574.7" width="29.6" height="7.2" fill="#0000FF"/>
<rect x="1744.6" y="596" width="29.6" height="7.2" fill="#0000FF"/>
<rect x="1717" y="553.4" width="27.6" height="7.2" fill="#FF0000"/>
<clipPath id="cpf2"><rect x="1000" y="370" width="760" height="233.7"/></clipPath><g clip-path="url(#cpf2)">
<circle cx="1029.2" cy="407.9" r="4.8" fill="#FF0000"/>
<circle cx="1053.92" cy="422.1" r="4.8" fill="#FF0000"/>
<circle cx="1229" cy="415" r="4.8" fill="#FF0000"/>
<circle cx="1119.67" cy="578.3" r="4.8" fill="#FF0000"/>
<circle cx="1158.15" cy="571.2" r="4.8" fill="#FF0000"/>
<circle cx="1146.69" cy="585.4" r="4.8" fill="#FF0000"/>
<circle cx="1161.98" cy="592.5" r="4.8" fill="#FF0000"/>
<circle cx="1260.86" cy="599.6" r="4.8" fill="#FF0000"/>
<circle cx="1291.95" cy="599.6" r="4.8" fill="#FF0000"/>
<circle cx="1421.2" cy="386.6" r="4.8" fill="#0000FF"/>
<circle cx="1578.44" cy="386.6" r="4.8" fill="#0000FF"/>
<circle cx="1532.56" cy="386.6" r="4.8" fill="#FF0000"/>
<circle cx="1585.83" cy="393.7" r="4.8" fill="#0000FF"/>
<circle cx="1569.77" cy="393.7" r="4.8" fill="#FF0000"/>
<circle cx="1565.95" cy="400.8" r="4.8" fill="#0000FF"/>
<circle cx="1538.68" cy="407.9" r="4.8" fill="#0000FF"/>
<circle cx="1476.75" cy="415" r="4.8" fill="#0000FF"/>
<circle cx="1630.42" cy="415" r="4.8" fill="#0000FF"/>
<circle cx="1523.9" cy="415" r="4.8" fill="#FF0000"/>
<circle cx="1584.55" cy="422.1" r="4.8" fill="#0000FF"/>
<circle cx="1564.67" cy="429.2" r="4.8" fill="#0000FF"/>
<circle cx="1603.15" cy="436.3" r="4.8" fill="#0000FF"/>
<circle cx="1687.51" cy="436.3" r="4.8" fill="#0000FF"/>
<circle cx="1609.27" cy="443.4" r="4.8" fill="#0000FF"/>
<circle cx="1570.79" cy="450.5" r="4.8" fill="#0000FF"/>
<circle cx="1527.47" cy="457.6" r="4.8" fill="#0000FF"/>
<circle cx="1569.52" cy="457.6" r="4.8" fill="#0000FF"/>
<circle cx="1595.76" cy="464.7" r="4.8" fill="#0000FF"/>
<circle cx="1542.5" cy="471.8" r="4.8" fill="#0000FF"/>
<circle cx="1631.7" cy="471.8" r="4.8" fill="#0000FF"/>
<circle cx="1568.5" cy="478.9" r="4.8" fill="#0000FF"/>
<circle cx="1537.41" cy="486" r="4.8" fill="#0000FF"/>
<circle cx="1551.17" cy="486" r="4.8" fill="#0000FF"/>
<circle cx="1633.99" cy="493.1" r="4.8" fill="#0000FF"/>
<circle cx="1681.14" cy="493.1" r="4.8" fill="#0000FF"/>
<circle cx="1621.76" cy="500.2" r="4.8" fill="#0000FF"/>
<circle cx="1615.39" cy="507.3" r="4.8" fill="#0000FF"/>
<circle cx="1583.28" cy="514.4" r="4.8" fill="#0000FF"/>
<circle cx="1606.72" cy="521.5" r="4.8" fill="#0000FF"/>
<circle cx="1621.76" cy="521.5" r="4.8" fill="#0000FF"/>
<circle cx="1553.72" cy="528.6" r="4.8" fill="#0000FF"/>
<circle cx="1698.47" cy="528.6" r="4.8" fill="#0000FF"/>
<circle cx="1547.34" cy="535.7" r="4.8" fill="#0000FF"/>
<circle cx="1609.27" cy="542.8" r="4.8" fill="#0000FF"/>
<circle cx="1595.76" cy="549.9" r="4.8" fill="#0000FF"/>
<circle cx="1688.53" cy="549.9" r="4.8" fill="#0000FF"/>
<circle cx="1573.34" cy="557" r="4.8" fill="#0000FF"/>
<circle cx="1643.93" cy="557" r="4.8" fill="#0000FF"/>
<circle cx="1683.69" cy="557" r="4.8" fill="#0000FF"/>
<circle cx="1573.34" cy="564.1" r="4.8" fill="#0000FF"/>
<circle cx="1632.97" cy="571.2" r="4.8" fill="#0000FF"/>
<circle cx="1641.38" cy="571.2" r="4.8" fill="#0000FF"/>
<circle cx="1570.79" cy="578.3" r="4.8" fill="#0000FF"/>
<circle cx="1565.95" cy="585.4" r="4.8" fill="#0000FF"/>
<circle cx="1517.53" cy="592.5" r="4.8" fill="#0000FF"/>
<circle cx="1570.79" cy="592.5" r="4.8" fill="#0000FF"/>
<circle cx="1614.37" cy="599.6" r="4.8" fill="#0000FF"/>
<circle cx="1414.83" cy="599.6" r="4.8" fill="#FF0000"/>
<circle cx="1445.66" cy="599.6" r="4.8" fill="#FF0000"/>
</g>
<line x1="1021" y1="603.4" x2="1715.7" y2="603.4" stroke="#222" stroke-width="1.6"/>
<text transform="translate(-0.45 1033) scale(1.04 1)" x="0" y="0" font-size="40" font-weight="bold" stroke="#000" stroke-width="0.9" stroke-linejoin="round">g</text>
<line x1="152.9" y1="1043.8" x2="152.9" y2="1340" stroke="#222" stroke-width="1.3"/>
<line x1="152.9" y1="1339.4" x2="748.9" y2="1339.4" stroke="#222" stroke-width="1.3"/>
<line x1="140.2" y1="1330.5" x2="152.9" y2="1330.5" stroke="#222" stroke-width="1.3"/>
<text x="0" y="0" font-size="22.4" text-anchor="end" transform="translate(129.6 1338.4) scale(0.95 1)">0</text>
<line x1="140.2" y1="1293.79" x2="152.9" y2="1293.79" stroke="#222" stroke-width="1.3"/>
<text x="0" y="0" font-size="22.4" text-anchor="end" transform="translate(129.6 1301.69) scale(0.95 1)">25</text>
<line x1="140.2" y1="1257.08" x2="152.9" y2="1257.08" stroke="#222" stroke-width="1.3"/>
<text x="0" y="0" font-size="22.4" text-anchor="end" transform="translate(129.6 1264.98) scale(0.95 1)">50</text>
<line x1="140.2" y1="1220.36" x2="152.9" y2="1220.36" stroke="#222" stroke-width="1.3"/>
<text x="0" y="0" font-size="22.4" text-anchor="end" transform="translate(129.6 1228.26) scale(0.95 1)">75</text>
<line x1="140.2" y1="1183.65" x2="152.9" y2="1183.65" stroke="#222" stroke-width="1.3"/>
<text x="0" y="0" font-size="22.4" text-anchor="end" transform="translate(129.6 1191.55) scale(0.95 1)">100</text>
<line x1="140.2" y1="1146.94" x2="152.9" y2="1146.94" stroke="#222" stroke-width="1.3"/>
<text x="0" y="0" font-size="22.4" text-anchor="end" transform="translate(129.6 1154.84) scale(0.95 1)">125</text>
<line x1="140.2" y1="1110.22" x2="152.9" y2="1110.22" stroke="#222" stroke-width="1.3"/>
<text x="0" y="0" font-size="22.4" text-anchor="end" transform="translate(129.6 1118.12) scale(0.95 1)">150</text>
<line x1="140.2" y1="1073.51" x2="152.9" y2="1073.51" stroke="#222" stroke-width="1.3"/>
<text x="0" y="0" font-size="22.4" text-anchor="end" transform="translate(129.6 1081.41) scale(0.95 1)">175</text>
<line x1="252.3" y1="1339.4" x2="252.3" y2="1351.7" stroke="#222" stroke-width="1.3"/>
<line x1="450.3" y1="1339.4" x2="450.3" y2="1351.7" stroke="#222" stroke-width="1.3"/>
<line x1="648.5" y1="1339.4" x2="648.5" y2="1351.7" stroke="#222" stroke-width="1.3"/>
<text x="252.3" y="1382" font-size="22.4" text-anchor="middle" textLength="37.5" lengthAdjust="spacingAndGlyphs">QKI</text>
<text x="252.3" y="1412.8" font-size="22.4" text-anchor="middle" textLength="88" lengthAdjust="spacingAndGlyphs">(HepG2)</text>
<text x="450.3" y="1382" font-size="22.4" text-anchor="middle" textLength="87" lengthAdjust="spacingAndGlyphs">RBFOX2</text>
<text x="450.3" y="1412.8" font-size="22.4" text-anchor="middle" textLength="88" lengthAdjust="spacingAndGlyphs">(HepG2)</text>
<text x="648.5" y="1382" font-size="22.4" text-anchor="middle" textLength="127.4" lengthAdjust="spacingAndGlyphs">RBFOX1/2/3</text>
<text x="648.5" y="1412.8" font-size="22.4" text-anchor="middle" textLength="84.8" lengthAdjust="spacingAndGlyphs">(Mouse)</text>
<text x="375.1" y="1458" font-size="27.3" textLength="147.7" lengthAdjust="spacingAndGlyphs">Knockdown</text>
<text x="0" y="0" font-size="27.3" text-anchor="middle" textLength="226.8" lengthAdjust="spacingAndGlyphs" transform="translate(37 1191) rotate(-90)">Distance between</text>
<text x="0" y="0" font-size="27.3" text-anchor="middle" textLength="261.2" lengthAdjust="spacingAndGlyphs" transform="translate(68.8 1191.8) rotate(-90)">QKI and RBFOX sites</text>
<circle cx="750.9" cy="1094.3" r="15.6" fill="#FF4500"/>
<text x="782" y="1102" font-size="22.2" textLength="95.3" lengthAdjust="spacingAndGlyphs">Downreg</text>
<circle cx="750.9" cy="1143.5" r="15.6" fill="#000"/>
<text x="782" y="1150.8" font-size="22.2" textLength="29.5" lengthAdjust="spacingAndGlyphs">NS</text>
<text x="186.8" y="1156.6" font-size="19.9" textLength="52.8" lengthAdjust="spacingAndGlyphs"><tspan font-style="italic">n</tspan> = 18</text>
<text x="258.7" y="1073.4" font-size="19.9" textLength="55.3" lengthAdjust="spacingAndGlyphs"><tspan font-style="italic">n</tspan> = 22</text>
<text x="389.9" y="1111.2" font-size="19.9" textLength="51.5" lengthAdjust="spacingAndGlyphs"><tspan font-style="italic">n</tspan> = 21</text>
<text x="456.6" y="1041" font-size="19.9" textLength="55.3" lengthAdjust="spacingAndGlyphs"><tspan font-style="italic">n</tspan> = 75</text>
<text x="585.3" y="1064" font-size="19.9" textLength="57.8" lengthAdjust="spacingAndGlyphs"><tspan font-style="italic">n</tspan> = 48</text>
<text x="649.5" y="1038" font-size="19.9" textLength="65.7" lengthAdjust="spacingAndGlyphs"><tspan font-style="italic">n</tspan> = 146</text>
<line x1="217.4" y1="1274.7" x2="217.4" y2="1276.5" stroke="#808080" stroke-width="1.6"/>
<line x1="217.4" y1="1300.7" x2="217.4" y2="1318.6" stroke="#808080" stroke-width="1.6"/>
<line x1="200.6" y1="1274.7" x2="234.5" y2="1274.7" stroke="#808080" stroke-width="1.6"/>
<line x1="200.6" y1="1318.6" x2="234.5" y2="1318.6" stroke="#808080" stroke-width="1.6"/>
<rect x="183.5" y="1276.5" width="68" height="24.2" fill="#fff" stroke="#808080" stroke-width="1.6"/>
<line x1="183.5" y1="1289.2" x2="251.5" y2="1289.2" stroke="#808080" stroke-width="1.6"/>
<line x1="287" y1="1094" x2="287" y2="1170.5" stroke="#808080" stroke-width="1.6"/>
<line x1="287" y1="1274.5" x2="287" y2="1311.2" stroke="#808080" stroke-width="1.6"/>
<line x1="270.1" y1="1094" x2="304" y2="1094" stroke="#808080" stroke-width="1.6"/>
<line x1="270.1" y1="1311.2" x2="304" y2="1311.2" stroke="#808080" stroke-width="1.6"/>
<rect x="252.8" y="1170.5" width="68.3" height="104" fill="#D3D3D3" stroke="#808080" stroke-width="1.6"/>
<line x1="252.8" y1="1226" x2="321.1" y2="1226" stroke="#808080" stroke-width="1.6"/>
<line x1="415.6" y1="1224.8" x2="415.6" y2="1237.8" stroke="#808080" stroke-width="1.6"/>
<line x1="415.6" y1="1300.7" x2="415.6" y2="1320.1" stroke="#808080" stroke-width="1.6"/>
<line x1="398.3" y1="1224.8" x2="432.7" y2="1224.8" stroke="#808080" stroke-width="1.6"/>
<line x1="398.3" y1="1320.1" x2="432.7" y2="1320.1" stroke="#808080" stroke-width="1.6"/>
<rect x="381.5" y="1237.8" width="68.3" height="62.9" fill="#fff" stroke="#808080" stroke-width="1.6"/>
<line x1="381.5" y1="1274.5" x2="449.8" y2="1274.5" stroke="#808080" stroke-width="1.6"/>
<line x1="485.4" y1="1057.3" x2="485.4" y2="1175.3" stroke="#808080" stroke-width="1.6"/>
<line x1="485.4" y1="1283.4" x2="485.4" y2="1324.4" stroke="#808080" stroke-width="1.6"/>
<line x1="468" y1="1057.3" x2="502.4" y2="1057.3" stroke="#808080" stroke-width="1.6"/>
<line x1="468" y1="1324.4" x2="502.4" y2="1324.4" stroke="#808080" stroke-width="1.6"/>
<rect x="451" y="1175.3" width="68.5" height="108.1" fill="#D3D3D3" stroke="#808080" stroke-width="1.6"/>
<line x1="451" y1="1227.3" x2="519.5" y2="1227.3" stroke="#808080" stroke-width="1.6"/>
<line x1="614" y1="1077.7" x2="614" y2="1199.5" stroke="#808080" stroke-width="1.6"/>
<line x1="614" y1="1303.8" x2="614" y2="1322.9" stroke="#808080" stroke-width="1.6"/>
<line x1="596.7" y1="1077.7" x2="631.1" y2="1077.7" stroke="#808080" stroke-width="1.6"/>
<line x1="596.7" y1="1322.9" x2="631.1" y2="1322.9" stroke="#808080" stroke-width="1.6"/>
<rect x="579.7" y="1199.5" width="68.5" height="104.3" fill="#fff" stroke="#808080" stroke-width="1.6"/>
<line x1="579.7" y1="1275.2" x2="648.2" y2="1275.2" stroke="#808080" stroke-width="1.6"/>
<line x1="683.6" y1="1057.3" x2="683.6" y2="1165.1" stroke="#808080" stroke-width="1.6"/>
<line x1="683.6" y1="1260.2" x2="683.6" y2="1325.7" stroke="#808080" stroke-width="1.6"/>
<line x1="666.3" y1="1057.3" x2="700.7" y2="1057.3" stroke="#808080" stroke-width="1.6"/>
<line x1="666.3" y1="1325.7" x2="700.7" y2="1325.7" stroke="#808080" stroke-width="1.6"/>
<rect x="649.5" y="1165.1" width="68.3" height="95.1" fill="#D3D3D3" stroke="#808080" stroke-width="1.6"/>
<line x1="649.5" y1="1217.4" x2="717.8" y2="1217.4" stroke="#808080" stroke-width="1.6"/>
<circle cx="212.28" cy="1183.49" r="3.55" fill="#FF4500"/>
<circle cx="212.28" cy="1201.33" r="3.55" fill="#FF4500"/>
<circle cx="212.28" cy="1227.57" r="3.55" fill="#FF4500"/>
<circle cx="212.28" cy="1239.55" r="3.55" fill="#FF4500"/>
<circle cx="212.28" cy="1274.46" r="3.55" fill="#FF4500"/>
<circle cx="211.52" cy="1282.11" r="3.55" fill="#FF4500"/>
<circle cx="198.01" cy="1287.97" r="3.55" fill="#FF4500"/>
<circle cx="215.6" cy="1287.97" r="3.55" fill="#FF4500"/>
<circle cx="222.99" cy="1287.97" r="3.55" fill="#FF4500"/>
<circle cx="204.64" cy="1290.52" r="3.55" fill="#FF4500"/>
<circle cx="211.52" cy="1293.83" r="3.55" fill="#FF4500"/>
<circle cx="218.4" cy="1296.38" r="3.55" fill="#FF4500"/>
<circle cx="204.64" cy="1299.44" r="3.55" fill="#FF4500"/>
<circle cx="212.28" cy="1301.48" r="3.55" fill="#FF4500"/>
<circle cx="198.78" cy="1314.22" r="3.55" fill="#FF4500"/>
<circle cx="219.16" cy="1316" r="3.55" fill="#FF4500"/>
<circle cx="204.64" cy="1318.55" r="3.55" fill="#FF4500"/>
<circle cx="212.28" cy="1318.55" r="3.55" fill="#FF4500"/>
<circle cx="291.79" cy="1094.29" r="3.55" fill="#000"/>
<circle cx="284.15" cy="1129.2" r="3.55" fill="#000"/>
<circle cx="298.67" cy="1129.2" r="3.55" fill="#000"/>
<circle cx="291.79" cy="1131.24" r="3.55" fill="#000"/>
<circle cx="291.79" cy="1140.93" r="3.55" fill="#000"/>
<circle cx="291.79" cy="1166.16" r="3.55" fill="#000"/>
<circle cx="291.79" cy="1183.49" r="3.55" fill="#000"/>
<circle cx="291.79" cy="1203.87" r="3.55" fill="#000"/>
<circle cx="284.15" cy="1209.99" r="3.55" fill="#000"/>
<circle cx="291.79" cy="1211.52" r="3.55" fill="#000"/>
<circle cx="284.91" cy="1224.52" r="3.55" fill="#000"/>
<circle cx="291.79" cy="1227.06" r="3.55" fill="#000"/>
<circle cx="291.79" cy="1234.96" r="3.55" fill="#000"/>
<circle cx="291.79" cy="1268.35" r="3.55" fill="#000"/>
<circle cx="277.01" cy="1273.45" r="3.55" fill="#000"/>
<circle cx="284.15" cy="1274.46" r="3.55" fill="#000"/>
<circle cx="291.79" cy="1275.99" r="3.55" fill="#000"/>
<circle cx="298.67" cy="1274.46" r="3.55" fill="#000"/>
<circle cx="306.32" cy="1273.45" r="3.55" fill="#000"/>
<circle cx="284.91" cy="1308.61" r="3.55" fill="#000"/>
<circle cx="297.4" cy="1307.08" r="3.55" fill="#000"/>
<circle cx="291.79" cy="1311.16" r="3.55" fill="#000"/>
<circle cx="410.55" cy="1126.15" r="3.55" fill="#FF4500"/>
<circle cx="403.67" cy="1138.38" r="3.55" fill="#FF4500"/>
<circle cx="410.55" cy="1138.38" r="3.55" fill="#FF4500"/>
<circle cx="410.55" cy="1224.77" r="3.55" fill="#FF4500"/>
<circle cx="403.67" cy="1236.49" r="3.55" fill="#FF4500"/>
<circle cx="410.55" cy="1238.02" r="3.55" fill="#FF4500"/>
<circle cx="415.39" cy="1246.69" r="3.55" fill="#FF4500"/>
<circle cx="403.67" cy="1252.8" r="3.55" fill="#FF4500"/>
<circle cx="410.55" cy="1252.8" r="3.55" fill="#FF4500"/>
<circle cx="403.67" cy="1273.19" r="3.55" fill="#FF4500"/>
<circle cx="410.55" cy="1274.46" r="3.55" fill="#FF4500"/>
<circle cx="403.67" cy="1287.97" r="3.55" fill="#FF4500"/>
<circle cx="410.55" cy="1287.97" r="3.55" fill="#FF4500"/>
<circle cx="410.55" cy="1296.38" r="3.55" fill="#FF4500"/>
<circle cx="396.28" cy="1301.22" r="3.55" fill="#FF4500"/>
<circle cx="403.67" cy="1301.22" r="3.55" fill="#FF4500"/>
<circle cx="410.55" cy="1303.26" r="3.55" fill="#FF4500"/>
<circle cx="417.43" cy="1301.22" r="3.55" fill="#FF4500"/>
<circle cx="403.67" cy="1318.55" r="3.55" fill="#FF4500"/>
<circle cx="410.55" cy="1320.59" r="3.55" fill="#FF4500"/>
<circle cx="416.67" cy="1316" r="3.55" fill="#FF4500"/>
<circle cx="490.19" cy="1057.12" r="3.55" fill="#000"/>
<circle cx="490.19" cy="1077.89" r="3.55" fill="#000"/>
<circle cx="490.19" cy="1110.3" r="3.55" fill="#000"/>
<circle cx="500.16" cy="1114.46" r="3.55" fill="#000"/>
<circle cx="493.18" cy="1117.78" r="3.55" fill="#000"/>
<circle cx="485.7" cy="1118.94" r="3.55" fill="#000"/>
<circle cx="489.86" cy="1125.09" r="3.55" fill="#000"/>
<circle cx="483.21" cy="1129.41" r="3.55" fill="#000"/>
<circle cx="489.86" cy="1132.24" r="3.55" fill="#000"/>
<circle cx="489.86" cy="1145.53" r="3.55" fill="#000"/>
<circle cx="482.71" cy="1151.02" r="3.55" fill="#000"/>
<circle cx="489.86" cy="1153.35" r="3.55" fill="#000"/>
<circle cx="489.86" cy="1159.99" r="3.55" fill="#000"/>
<circle cx="493.52" cy="1168.8" r="3.55" fill="#000"/>
<circle cx="471.91" cy="1170.46" r="3.55" fill="#000"/>
<circle cx="479.39" cy="1172.13" r="3.55" fill="#000"/>
<circle cx="486.53" cy="1172.13" r="3.55" fill="#000"/>
<circle cx="506.98" cy="1171.79" r="3.55" fill="#000"/>
<circle cx="499.83" cy="1174.62" r="3.55" fill="#000"/>
<circle cx="492.85" cy="1176.61" r="3.55" fill="#000"/>
<circle cx="485.7" cy="1179.27" r="3.55" fill="#000"/>
<circle cx="489.86" cy="1185.42" r="3.55" fill="#000"/>
<circle cx="476.23" cy="1186.58" r="3.55" fill="#000"/>
<circle cx="503.15" cy="1186.58" r="3.55" fill="#000"/>
<circle cx="483.21" cy="1188.75" r="3.55" fill="#000"/>
<circle cx="497.34" cy="1190.91" r="3.55" fill="#000"/>
<circle cx="489.86" cy="1192.07" r="3.55" fill="#000"/>
<circle cx="483.21" cy="1196.56" r="3.55" fill="#000"/>
<circle cx="489.86" cy="1200.38" r="3.55" fill="#000"/>
<circle cx="507.31" cy="1199.88" r="3.55" fill="#000"/>
<circle cx="500.16" cy="1200.88" r="3.55" fill="#000"/>
<circle cx="478.56" cy="1202.54" r="3.55" fill="#000"/>
<circle cx="494.01" cy="1205.36" r="3.55" fill="#000"/>
<circle cx="485.7" cy="1205.36" r="3.55" fill="#000"/>
<circle cx="489.86" cy="1211.18" r="3.55" fill="#000"/>
<circle cx="483.21" cy="1218.66" r="3.55" fill="#000"/>
<circle cx="489.86" cy="1221.65" r="3.55" fill="#000"/>
<circle cx="497.84" cy="1227.47" r="3.55" fill="#000"/>
<circle cx="490.69" cy="1230.79" r="3.55" fill="#000"/>
<circle cx="484.04" cy="1233.12" r="3.55" fill="#000"/>
<circle cx="489.86" cy="1237.77" r="3.55" fill="#000"/>
<circle cx="476.23" cy="1242.43" r="3.55" fill="#000"/>
<circle cx="496.17" cy="1243.59" r="3.55" fill="#000"/>
<circle cx="503.49" cy="1243.59" r="3.55" fill="#000"/>
<circle cx="483.21" cy="1244.75" r="3.55" fill="#000"/>
<circle cx="489.86" cy="1248.08" r="3.55" fill="#000"/>
<circle cx="479.89" cy="1254.06" r="3.55" fill="#000"/>
<circle cx="487.37" cy="1255.22" r="3.55" fill="#000"/>
<circle cx="494.51" cy="1258.05" r="3.55" fill="#000"/>
<circle cx="482.71" cy="1262.37" r="3.55" fill="#000"/>
<circle cx="490.19" cy="1264.7" r="3.55" fill="#000"/>
<circle cx="470.75" cy="1278.99" r="3.55" fill="#000"/>
<circle cx="489.86" cy="1278.99" r="3.55" fill="#000"/>
<circle cx="503.15" cy="1280.15" r="3.55" fill="#000"/>
<circle cx="476.9" cy="1283.48" r="3.55" fill="#000"/>
<circle cx="484.04" cy="1283.98" r="3.55" fill="#000"/>
<circle cx="496.01" cy="1283.98" r="3.55" fill="#000"/>
<circle cx="489.86" cy="1287.63" r="3.55" fill="#000"/>
<circle cx="468.59" cy="1290.46" r="3.55" fill="#000"/>
<circle cx="475.73" cy="1292.62" r="3.55" fill="#000"/>
<circle cx="503.99" cy="1292.29" r="3.55" fill="#000"/>
<circle cx="496.84" cy="1293.45" r="3.55" fill="#000"/>
<circle cx="482.71" cy="1294.61" r="3.55" fill="#000"/>
<circle cx="489.86" cy="1296.77" r="3.55" fill="#000"/>
<circle cx="510.97" cy="1299.27" r="3.55" fill="#000"/>
<circle cx="503.15" cy="1299.6" r="3.55" fill="#000"/>
<circle cx="475.23" cy="1302.59" r="3.55" fill="#000"/>
<circle cx="497.34" cy="1303.42" r="3.55" fill="#000"/>
<circle cx="482.71" cy="1303.42" r="3.55" fill="#000"/>
<circle cx="489.86" cy="1305.08" r="3.55" fill="#000"/>
<circle cx="481.55" cy="1312.56" r="3.55" fill="#000"/>
<circle cx="500.16" cy="1315.88" r="3.55" fill="#000"/>
<circle cx="492.85" cy="1315.88" r="3.55" fill="#000"/>
<circle cx="485.7" cy="1317.88" r="3.55" fill="#000"/>
<circle cx="489.86" cy="1324.53" r="3.55" fill="#000"/>
<circle cx="603.2" cy="1077.89" r="3.55" fill="#FF4500"/>
<circle cx="609.02" cy="1082.38" r="3.55" fill="#FF4500"/>
<circle cx="609.02" cy="1133.9" r="3.55" fill="#FF4500"/>
<circle cx="609.02" cy="1141.05" r="3.55" fill="#FF4500"/>
<circle cx="601.54" cy="1151.02" r="3.55" fill="#FF4500"/>
<circle cx="609.02" cy="1151.02" r="3.55" fill="#FF4500"/>
<circle cx="595.39" cy="1159.99" r="3.55" fill="#FF4500"/>
<circle cx="602.04" cy="1163.32" r="3.55" fill="#FF4500"/>
<circle cx="616.17" cy="1163.32" r="3.55" fill="#FF4500"/>
<circle cx="609.02" cy="1166.31" r="3.55" fill="#FF4500"/>
<circle cx="603.2" cy="1186.58" r="3.55" fill="#FF4500"/>
<circle cx="609.02" cy="1190.91" r="3.55" fill="#FF4500"/>
<circle cx="603.2" cy="1202.54" r="3.55" fill="#FF4500"/>
<circle cx="614.84" cy="1202.87" r="3.55" fill="#FF4500"/>
<circle cx="609.02" cy="1207.03" r="3.55" fill="#FF4500"/>
<circle cx="609.02" cy="1217.83" r="3.55" fill="#FF4500"/>
<circle cx="609.02" cy="1234.78" r="3.55" fill="#FF4500"/>
<circle cx="609.02" cy="1245.25" r="3.55" fill="#FF4500"/>
<circle cx="597.89" cy="1255.72" r="3.55" fill="#FF4500"/>
<circle cx="609.02" cy="1256.89" r="3.55" fill="#FF4500"/>
<circle cx="602.04" cy="1261.37" r="3.55" fill="#FF4500"/>
<circle cx="616.17" cy="1261.37" r="3.55" fill="#FF4500"/>
<circle cx="609.02" cy="1264.03" r="3.55" fill="#FF4500"/>
<circle cx="609.02" cy="1271.51" r="3.55" fill="#FF4500"/>
<circle cx="609.02" cy="1278.99" r="3.55" fill="#FF4500"/>
<circle cx="595.73" cy="1283.48" r="3.55" fill="#FF4500"/>
<circle cx="616.17" cy="1285.97" r="3.55" fill="#FF4500"/>
<circle cx="601.54" cy="1287.63" r="3.55" fill="#FF4500"/>
<circle cx="609.02" cy="1287.63" r="3.55" fill="#FF4500"/>
<circle cx="595.73" cy="1292.29" r="3.55" fill="#FF4500"/>
<circle cx="616.17" cy="1294.78" r="3.55" fill="#FF4500"/>
<circle cx="601.54" cy="1296.77" r="3.55" fill="#FF4500"/>
<circle cx="609.02" cy="1298.43" r="3.55" fill="#FF4500"/>
<circle cx="630.63" cy="1300.93" r="3.55" fill="#FF4500"/>
<circle cx="623.31" cy="1302.26" r="3.55" fill="#FF4500"/>
<circle cx="594.06" cy="1303.75" r="3.55" fill="#FF4500"/>
<circle cx="601.54" cy="1303.75" r="3.55" fill="#FF4500"/>
<circle cx="616.17" cy="1305.08" r="3.55" fill="#FF4500"/>
<circle cx="609.02" cy="1305.08" r="3.55" fill="#FF4500"/>
<circle cx="587.91" cy="1309.74" r="3.55" fill="#FF4500"/>
<circle cx="629.46" cy="1309.74" r="3.55" fill="#FF4500"/>
<circle cx="622.32" cy="1310.07" r="3.55" fill="#FF4500"/>
<circle cx="594.56" cy="1312.56" r="3.55" fill="#FF4500"/>
<circle cx="602.04" cy="1312.56" r="3.55" fill="#FF4500"/>
<circle cx="616.17" cy="1314.22" r="3.55" fill="#FF4500"/>
<circle cx="609.02" cy="1315.88" r="3.55" fill="#FF4500"/>
<circle cx="602.04" cy="1320.37" r="3.55" fill="#FF4500"/>
<circle cx="609.02" cy="1323.03" r="3.55" fill="#FF4500"/>
<circle cx="680.92" cy="1057.47" r="3.55" fill="#000"/>
<circle cx="688.29" cy="1057.47" r="3.55" fill="#000"/>
<circle cx="694.35" cy="1073.54" r="3.55" fill="#000"/>
<circle cx="680.92" cy="1078.04" r="3.55" fill="#000"/>
<circle cx="688.29" cy="1078.04" r="3.55" fill="#000"/>
<circle cx="689.46" cy="1089.69" r="3.55" fill="#000"/>
<circle cx="682.31" cy="1092.8" r="3.55" fill="#000"/>
<circle cx="688.29" cy="1097.3" r="3.55" fill="#000"/>
<circle cx="678.28" cy="1104.44" r="3.55" fill="#000"/>
<circle cx="696.13" cy="1104.44" r="3.55" fill="#000"/>
<circle cx="689.46" cy="1107.16" r="3.55" fill="#000"/>
<circle cx="682.31" cy="1110.5" r="3.55" fill="#000"/>
<circle cx="695.36" cy="1111.58" r="3.55" fill="#000"/>
<circle cx="688.29" cy="1114.92" r="3.55" fill="#000"/>
<circle cx="674.16" cy="1117.64" r="3.55" fill="#000"/>
<circle cx="702.5" cy="1117.64" r="3.55" fill="#000"/>
<circle cx="710.11" cy="1117.64" r="3.55" fill="#000"/>
<circle cx="695.36" cy="1119.19" r="3.55" fill="#000"/>
<circle cx="680.92" cy="1120.75" r="3.55" fill="#000"/>
<circle cx="688.29" cy="1122.14" r="3.55" fill="#000"/>
<circle cx="692.64" cy="1132.24" r="3.55" fill="#000"/>
<circle cx="682.31" cy="1133.56" r="3.55" fill="#000"/>
<circle cx="688.29" cy="1138.21" r="3.55" fill="#000"/>
<circle cx="667.56" cy="1141.09" r="3.55" fill="#000"/>
<circle cx="675.17" cy="1141.09" r="3.55" fill="#000"/>
<circle cx="701.57" cy="1141.09" r="3.55" fill="#000"/>
<circle cx="680.92" cy="1145.59" r="3.55" fill="#000"/>
<circle cx="695.51" cy="1145.59" r="3.55" fill="#000"/>
<circle cx="688.29" cy="1146.99" r="3.55" fill="#000"/>
<circle cx="676.49" cy="1154.29" r="3.55" fill="#000"/>
<circle cx="707.16" cy="1154.29" r="3.55" fill="#000"/>
<circle cx="689.46" cy="1155.68" r="3.55" fill="#000"/>
<circle cx="699.78" cy="1155.68" r="3.55" fill="#000"/>
<circle cx="682.31" cy="1158.63" r="3.55" fill="#000"/>
<circle cx="695.36" cy="1161.51" r="3.55" fill="#000"/>
<circle cx="688.29" cy="1163.06" r="3.55" fill="#000"/>
<circle cx="675.17" cy="1164.61" r="3.55" fill="#000"/>
<circle cx="703.04" cy="1167.33" r="3.55" fill="#000"/>
<circle cx="680.92" cy="1168.88" r="3.55" fill="#000"/>
<circle cx="695.36" cy="1168.88" r="3.55" fill="#000"/>
<circle cx="688.29" cy="1170.43" r="3.55" fill="#000"/>
<circle cx="663.29" cy="1174.94" r="3.55" fill="#000"/>
<circle cx="670.9" cy="1176.26" r="3.55" fill="#000"/>
<circle cx="702.5" cy="1176.26" r="3.55" fill="#000"/>
<circle cx="710.11" cy="1176.26" r="3.55" fill="#000"/>
<circle cx="695.36" cy="1176.26" r="3.55" fill="#000"/>
<circle cx="680.92" cy="1177.81" r="3.55" fill="#000"/>
<circle cx="688.29" cy="1179.36" r="3.55" fill="#000"/>
<circle cx="674.94" cy="1182.08" r="3.55" fill="#000"/>
<circle cx="695.36" cy="1183.63" r="3.55" fill="#000"/>
<circle cx="674.9" cy="1182.19" r="3.55" fill="#000"/>
<circle cx="668.25" cy="1186.34" r="3.55" fill="#000"/>
<circle cx="681" cy="1186.34" r="3.55" fill="#000"/>
<circle cx="688.2" cy="1186.62" r="3.55" fill="#000"/>
<circle cx="695.12" cy="1183.57" r="3.55" fill="#000"/>
<circle cx="674.07" cy="1191.33" r="3.55" fill="#000"/>
<circle cx="680.72" cy="1193.27" r="3.55" fill="#000"/>
<circle cx="688.2" cy="1194.38" r="3.55" fill="#000"/>
<circle cx="695.12" cy="1192.16" r="3.55" fill="#000"/>
<circle cx="702.6" cy="1191.05" r="3.55" fill="#000"/>
<circle cx="710.08" cy="1191.05" r="3.55" fill="#000"/>
<circle cx="667.15" cy="1202.13" r="3.55" fill="#000"/>
<circle cx="674.9" cy="1203.52" r="3.55" fill="#000"/>
<circle cx="682.11" cy="1205.46" r="3.55" fill="#000"/>
<circle cx="688.75" cy="1201.58" r="3.55" fill="#000"/>
<circle cx="695.96" cy="1200.19" r="3.55" fill="#000"/>
<circle cx="707.87" cy="1199.92" r="3.55" fill="#000"/>
<circle cx="702.05" cy="1204.35" r="3.55" fill="#000"/>
<circle cx="695.12" cy="1207.4" r="3.55" fill="#000"/>
<circle cx="688.75" cy="1208.23" r="3.55" fill="#000"/>
<circle cx="667.42" cy="1215.15" r="3.55" fill="#000"/>
<circle cx="674.35" cy="1216.54" r="3.55" fill="#000"/>
<circle cx="681.55" cy="1213.77" r="3.55" fill="#000"/>
<circle cx="685.43" cy="1218.75" r="3.55" fill="#000"/>
<circle cx="692.63" cy="1217.37" r="3.55" fill="#000"/>
<circle cx="699.56" cy="1214.32" r="3.55" fill="#000"/>
<circle cx="707.04" cy="1212.94" r="3.55" fill="#000"/>
<circle cx="657.73" cy="1220.97" r="3.55" fill="#000"/>
<circle cx="664.1" cy="1225.12" r="3.55" fill="#000"/>
<circle cx="671.02" cy="1227.06" r="3.55" fill="#000"/>
<circle cx="678.23" cy="1221.52" r="3.55" fill="#000"/>
<circle cx="682.11" cy="1225.4" r="3.55" fill="#000"/>
<circle cx="688.75" cy="1223.19" r="3.55" fill="#000"/>
<circle cx="698.73" cy="1221.8" r="3.55" fill="#000"/>
<circle cx="706.2" cy="1221.8" r="3.55" fill="#000"/>
<circle cx="712.02" cy="1226.23" r="3.55" fill="#000"/>
<circle cx="718.95" cy="1223.19" r="3.55" fill="#000"/>
<circle cx="677.67" cy="1229.83" r="3.55" fill="#000"/>
<circle cx="684.32" cy="1230.39" r="3.55" fill="#000"/>
<circle cx="690.97" cy="1228.73" r="3.55" fill="#000"/>
<circle cx="697.62" cy="1229" r="3.55" fill="#000"/>
<circle cx="705.1" cy="1229" r="3.55" fill="#000"/>
<circle cx="672.69" cy="1237.31" r="3.55" fill="#000"/>
<circle cx="679.89" cy="1239.25" r="3.55" fill="#000"/>
<circle cx="687.65" cy="1235.37" r="3.55" fill="#000"/>
<circle cx="695.12" cy="1237.87" r="3.55" fill="#000"/>
<circle cx="702.33" cy="1237.87" r="3.55" fill="#000"/>
<circle cx="709.53" cy="1234.82" r="3.55" fill="#000"/>
<circle cx="659.11" cy="1247.29" r="3.55" fill="#000"/>
<circle cx="667.15" cy="1247.56" r="3.55" fill="#000"/>
<circle cx="674.35" cy="1248.12" r="3.55" fill="#000"/>
<circle cx="682.11" cy="1244.79" r="3.55" fill="#000"/>
<circle cx="688.75" cy="1242.02" r="3.55" fill="#000"/>
<circle cx="691.52" cy="1248.12" r="3.55" fill="#000"/>
<circle cx="699" cy="1248.12" r="3.55" fill="#000"/>
<circle cx="706.48" cy="1248.12" r="3.55" fill="#000"/>
<circle cx="713.96" cy="1248.12" r="3.55" fill="#000"/>
<circle cx="719.78" cy="1243.68" r="3.55" fill="#000"/>
<circle cx="679.89" cy="1251.66" r="3.55" fill="#000"/>
<circle cx="687.65" cy="1253.32" r="3.55" fill="#000"/>
<circle cx="694.29" cy="1256.93" r="3.55" fill="#000"/>
<circle cx="701.77" cy="1256.93" r="3.55" fill="#000"/>
<circle cx="677.67" cy="1260.8" r="3.55" fill="#000"/>
<circle cx="688.2" cy="1261.91" r="3.55" fill="#000"/>
<circle cx="694.29" cy="1267.45" r="3.55" fill="#000"/>
<circle cx="701.77" cy="1265.79" r="3.55" fill="#000"/>
<circle cx="681.55" cy="1267.17" r="3.55" fill="#000"/>
<circle cx="688.2" cy="1271.05" r="3.55" fill="#000"/>
<circle cx="701.77" cy="1273.27" r="3.55" fill="#000"/>
<circle cx="674.07" cy="1274.65" r="3.55" fill="#000"/>
<circle cx="681.55" cy="1277.7" r="3.55" fill="#000"/>
<circle cx="688.2" cy="1278.81" r="3.55" fill="#000"/>
<circle cx="695.4" cy="1277.42" r="3.55" fill="#000"/>
<circle cx="659.39" cy="1278.81" r="3.55" fill="#000"/>
<circle cx="666.59" cy="1281.86" r="3.55" fill="#000"/>
<circle cx="673.24" cy="1283.8" r="3.55" fill="#000"/>
<circle cx="681" cy="1285.46" r="3.55" fill="#000"/>
<circle cx="688.2" cy="1285.46" r="3.55" fill="#000"/>
<circle cx="695.4" cy="1285.18" r="3.55" fill="#000"/>
<circle cx="702.88" cy="1283.52" r="3.55" fill="#000"/>
<circle cx="710.36" cy="1281.86" r="3.55" fill="#000"/>
<circle cx="682.11" cy="1293.49" r="3.55" fill="#000"/>
<circle cx="688.75" cy="1295.98" r="3.55" fill="#000"/>
<circle cx="692.63" cy="1292.11" r="3.55" fill="#000"/>
<circle cx="698.45" cy="1297.92" r="3.55" fill="#000"/>
<circle cx="705.93" cy="1296.81" r="3.55" fill="#000"/>
<circle cx="675.46" cy="1300.69" r="3.55" fill="#000"/>
<circle cx="682.11" cy="1304.02" r="3.55" fill="#000"/>
<circle cx="688.75" cy="1304.29" r="3.55" fill="#000"/>
<circle cx="694.29" cy="1304.29" r="3.55" fill="#000"/>
<circle cx="673.8" cy="1310.94" r="3.55" fill="#000"/>
<circle cx="681" cy="1313.99" r="3.55" fill="#000"/>
<circle cx="688.2" cy="1310.94" r="3.55" fill="#000"/>
<circle cx="688.2" cy="1315.93" r="3.55" fill="#000"/>
<circle cx="695.12" cy="1312.88" r="3.55" fill="#000"/>
<circle cx="701.22" cy="1308.73" r="3.55" fill="#000"/>
<circle cx="674.9" cy="1322.02" r="3.55" fill="#000"/>
<circle cx="680.72" cy="1326.45" r="3.55" fill="#000"/>
<circle cx="688.2" cy="1326.45" r="3.55" fill="#000"/>
<circle cx="695.12" cy="1323.13" r="3.55" fill="#000"/>
<circle cx="689.2" cy="1190" r="3.55" fill="#000"/>
<circle cx="684.4" cy="1193.7" r="3.55" fill="#000"/>
<circle cx="687.2" cy="1197.4" r="3.55" fill="#000"/>
<circle cx="683.6" cy="1201.1" r="3.55" fill="#000"/>
<circle cx="688.4" cy="1204.8" r="3.55" fill="#000"/>
<circle cx="689.2" cy="1208.5" r="3.55" fill="#000"/>
<circle cx="684.4" cy="1212.2" r="3.55" fill="#000"/>
<circle cx="687.2" cy="1215.9" r="3.55" fill="#000"/>
<circle cx="683.6" cy="1219.6" r="3.55" fill="#000"/>
<circle cx="688.4" cy="1223.3" r="3.55" fill="#000"/>
<circle cx="689.2" cy="1227" r="3.55" fill="#000"/>
<circle cx="684.4" cy="1230.7" r="3.55" fill="#000"/>
<circle cx="687.2" cy="1234.4" r="3.55" fill="#000"/>
<circle cx="683.6" cy="1238.1" r="3.55" fill="#000"/>
<circle cx="688.4" cy="1241.8" r="3.55" fill="#000"/>
<circle cx="689.2" cy="1245.5" r="3.55" fill="#000"/>
<circle cx="684.4" cy="1249.2" r="3.55" fill="#000"/>
<circle cx="687.2" cy="1252.9" r="3.55" fill="#000"/>
<circle cx="683.6" cy="1256.6" r="3.55" fill="#000"/>
<circle cx="688.4" cy="1260.3" r="3.55" fill="#000"/>
<circle cx="689.2" cy="1264" r="3.55" fill="#000"/>
<circle cx="684.4" cy="1267.7" r="3.55" fill="#000"/>
<circle cx="687.2" cy="1271.4" r="3.55" fill="#000"/>
<circle cx="683.6" cy="1275.1" r="3.55" fill="#000"/>
<circle cx="688.4" cy="1278.8" r="3.55" fill="#000"/>
<circle cx="689.2" cy="1282.5" r="3.55" fill="#000"/>
<circle cx="684.4" cy="1286.2" r="3.55" fill="#000"/>
<circle cx="687.2" cy="1289.9" r="3.55" fill="#000"/>
<circle cx="683.6" cy="1293.6" r="3.55" fill="#000"/>
<circle cx="688.4" cy="1297.3" r="3.55" fill="#000"/>
<circle cx="689.2" cy="1301" r="3.55" fill="#000"/>
<circle cx="684.4" cy="1304.7" r="3.55" fill="#000"/>
<circle cx="687.2" cy="1308.4" r="3.55" fill="#000"/>
<circle cx="683.6" cy="1312.1" r="3.55" fill="#000"/>
<circle cx="688.4" cy="1315.8" r="3.55" fill="#000"/>
<circle cx="689.2" cy="1319.5" r="3.55" fill="#000"/>
<text transform="translate(-0.69 1501.8) scale(1.04 1)" x="0" y="0" font-size="40" font-weight="bold" stroke="#000" stroke-width="0.9" stroke-linejoin="round">h</text>
<text x="0" y="0" font-size="27.3" text-anchor="middle" textLength="112" lengthAdjust="spacingAndGlyphs" transform="translate(73.9 1654.8) rotate(-90)">Inclusion</text>
<line x1="167.2" y1="1507" x2="167.2" y2="1814.5" stroke="#111" stroke-width="1.6"/>
<line x1="154.2" y1="1802.6" x2="861.5" y2="1802.6" stroke="#111" stroke-width="1.7"/>
<text x="142.9" y="1809.8" font-size="23.6" text-anchor="end" textLength="33.5" lengthAdjust="spacingAndGlyphs">0%</text>
<line x1="154.2" y1="1735.57" x2="167.2" y2="1735.57" stroke="#111" stroke-width="1.5"/>
<text x="142.9" y="1742.77" font-size="23.6" text-anchor="end" textLength="46.3" lengthAdjust="spacingAndGlyphs">10%</text>
<line x1="154.2" y1="1668.54" x2="167.2" y2="1668.54" stroke="#111" stroke-width="1.5"/>
<text x="142.9" y="1675.74" font-size="23.6" text-anchor="end" textLength="46.3" lengthAdjust="spacingAndGlyphs">20%</text>
<line x1="154.2" y1="1601.51" x2="167.2" y2="1601.51" stroke="#111" stroke-width="1.5"/>
<text x="142.9" y="1608.71" font-size="23.6" text-anchor="end" textLength="46.3" lengthAdjust="spacingAndGlyphs">30%</text>
<line x1="154.2" y1="1534.48" x2="167.2" y2="1534.48" stroke="#111" stroke-width="1.5"/>
<text x="142.9" y="1541.68" font-size="23.6" text-anchor="end" textLength="46.3" lengthAdjust="spacingAndGlyphs">40%</text>
<line x1="160" y1="1769.1" x2="167.2" y2="1769.1" stroke="#111" stroke-width="1.2"/>
<line x1="160" y1="1702.07" x2="167.2" y2="1702.07" stroke="#111" stroke-width="1.2"/>
<line x1="160" y1="1635.04" x2="167.2" y2="1635.04" stroke="#111" stroke-width="1.2"/>
<line x1="160" y1="1568.01" x2="167.2" y2="1568.01" stroke="#111" stroke-width="1.2"/>
<line x1="334.6" y1="1506" x2="334.6" y2="1802.6" stroke="#000" stroke-width="2.1"/>
<line x1="511.3" y1="1506" x2="511.3" y2="1802.6" stroke="#000" stroke-width="2.1"/>
<line x1="687.9" y1="1506" x2="687.9" y2="1802.6" stroke="#000" stroke-width="2.1"/>
<path d="M180.2 1802.6 L180.2 1541.8 L207.2 1541.8 L207.2 1802.6" fill="#B3B3B3" stroke="#000000" stroke-width="3.6" stroke-linejoin="miter"/>
<rect x="188.1" y="1540" width="10.8" height="18.2" fill="#fff"/>
<line x1="193.5" y1="1528.6" x2="193.5" y2="1555.4" stroke="#000000" stroke-width="5.6"/>
<circle cx="185.3" cy="1521" r="5.7" fill="#000000"/>
<circle cx="185.3" cy="1556.6" r="5.7" fill="#000000"/>
<circle cx="201.3" cy="1547" r="5.7" fill="#000000"/>
<path d="M215.4 1802.6 L215.4 1580.6 L242.3 1580.6 L242.3 1802.6" fill="#E8BDBD" stroke="#B22222" stroke-width="3.6" stroke-linejoin="miter"/>
<rect x="223.3" y="1578.8" width="10.8" height="17.6" fill="#fff"/>
<line x1="228.7" y1="1570.7" x2="228.7" y2="1593.6" stroke="#B22222" stroke-width="5.6"/>
<circle cx="220.4" cy="1573.2" r="5.7" fill="#B22222"/>
<circle cx="237" cy="1569.4" r="5.7" fill="#B22222"/>
<circle cx="220.4" cy="1600" r="5.7" fill="#B22222"/>
<path d="M250.8 1802.6 L250.8 1609.9 L277.8 1609.9 L277.8 1802.6" fill="#B3B3FF" stroke="#0000FF" stroke-width="3.6" stroke-linejoin="miter"/>
<rect x="258.2" y="1608.1" width="10.8" height="20.7" fill="#fff"/>
<line x1="263.6" y1="1593.6" x2="263.6" y2="1626" stroke="#0000FF" stroke-width="5.6"/>
<circle cx="256.1" cy="1600" r="5.7" fill="#0000FF"/>
<circle cx="271.9" cy="1591.6" r="5.7" fill="#0000FF"/>
<circle cx="256.1" cy="1638.7" r="5.7" fill="#0000FF"/>
<path d="M286.5 1802.6 L286.5 1655.8 L313.2 1655.8 L313.2 1802.6" fill="#D9B3D9" stroke="#800080" stroke-width="3.6" stroke-linejoin="miter"/>
<rect x="293.9" y="1654" width="10.8" height="28.3" fill="#fff"/>
<line x1="299.3" y1="1633.1" x2="299.3" y2="1679.5" stroke="#800080" stroke-width="5.6"/>
<circle cx="291.8" cy="1630.6" r="5.7" fill="#800080"/>
<circle cx="307.6" cy="1638.7" r="5.7" fill="#800080"/>
<circle cx="291.8" cy="1697.3" r="5.7" fill="#800080"/>
<path d="M356.8 1802.6 L356.8 1657.1 L383.2 1657.1 L383.2 1802.6" fill="#B3B3B3" stroke="#000000" stroke-width="3.6" stroke-linejoin="miter"/>
<rect x="365.2" y="1655.3" width="10.8" height="13.7" fill="#fff"/>
<line x1="370.6" y1="1648.4" x2="370.6" y2="1666.2" stroke="#000000" stroke-width="5.6"/>
<circle cx="361.9" cy="1657.3" r="5.7" fill="#000000"/>
<circle cx="377.9" cy="1645.8" r="5.7" fill="#000000"/>
<circle cx="361.9" cy="1668.3" r="5.7" fill="#000000"/>
<path d="M391.7 1802.6 L391.7 1659.1 L418.7 1659.1 L418.7 1802.6" fill="#E8BDBD" stroke="#B22222" stroke-width="3.6" stroke-linejoin="miter"/>
<rect x="399.6" y="1657.3" width="10.8" height="20.7" fill="#fff"/>
<line x1="405" y1="1642.5" x2="405" y2="1675.2" stroke="#B22222" stroke-width="5.6"/>
<circle cx="397.6" cy="1633.1" r="5.7" fill="#B22222"/>
<circle cx="412.8" cy="1659.9" r="5.7" fill="#B22222"/>
<circle cx="397.6" cy="1682" r="5.7" fill="#B22222"/>
<path d="M427.4 1802.6 L427.4 1701.9 L454.4 1701.9 L454.4 1802.6" fill="#B3B3FF" stroke="#0000FF" stroke-width="3.6" stroke-linejoin="miter"/>
<rect x="434.8" y="1700.1" width="10.8" height="21.2" fill="#fff"/>
<line x1="440.2" y1="1687.9" x2="440.2" y2="1718.5" stroke="#0000FF" stroke-width="5.6"/>
<circle cx="432.5" cy="1686.6" r="5.7" fill="#0000FF"/>
<circle cx="449" cy="1687.9" r="5.7" fill="#0000FF"/>
<circle cx="433.2" cy="1731.2" r="5.7" fill="#0000FF"/>
<path d="M463.1 1802.6 L463.1 1702.4 L488.7 1702.4 L488.7 1802.6" fill="#D9B3D9" stroke="#800080" stroke-width="3.6" stroke-linejoin="miter"/>
<rect x="470.3" y="1700.6" width="10.8" height="14.2" fill="#fff"/>
<line x1="475.7" y1="1694.7" x2="475.7" y2="1712" stroke="#800080" stroke-width="5.6"/>
<circle cx="467.9" cy="1696" r="5.7" fill="#800080"/>
<circle cx="483.9" cy="1694.7" r="5.7" fill="#800080"/>
<circle cx="467.9" cy="1716" r="5.7" fill="#800080"/>
<path d="M533.6 1802.6 L533.6 1715.1 L559.7 1715.1 L559.7 1802.6" fill="#B3B3B3" stroke="#000000" stroke-width="3.6" stroke-linejoin="miter"/>
<rect x="540.8" y="1713.3" width="10.8" height="16.1" fill="#fff"/>
<line x1="546.2" y1="1702.7" x2="546.2" y2="1726.6" stroke="#000000" stroke-width="5.6"/>
<circle cx="538.4" cy="1704.8" r="5.7" fill="#000000"/>
<circle cx="554.9" cy="1701.9" r="5.7" fill="#000000"/>
<circle cx="538.4" cy="1736.7" r="5.7" fill="#000000"/>
<path d="M568.9 1802.6 L568.9 1717.8 L594.6 1717.8 L594.6 1802.6" fill="#E8BDBD" stroke="#B22222" stroke-width="3.6" stroke-linejoin="miter"/>
<rect x="576.2" y="1716" width="10.8" height="14.2" fill="#fff"/>
<line x1="581.6" y1="1705.4" x2="581.6" y2="1727.4" stroke="#B22222" stroke-width="5.6"/>
<circle cx="573.8" cy="1706.7" r="5.7" fill="#B22222"/>
<circle cx="590.3" cy="1708.6" r="5.7" fill="#B22222"/>
<circle cx="573.8" cy="1735.2" r="5.7" fill="#B22222"/>
<path d="M604.3 1802.6 L604.3 1707.2 L629.9 1707.2 L629.9 1802.6" fill="#B3B3FF" stroke="#0000FF" stroke-width="3.6" stroke-linejoin="miter"/>
<rect x="611.6" y="1705.4" width="10.8" height="20.1" fill="#fff"/>
<line x1="617" y1="1688" x2="617" y2="1722.7" stroke="#0000FF" stroke-width="5.6"/>
<circle cx="609.4" cy="1687.3" r="5.7" fill="#0000FF"/>
<circle cx="625.4" cy="1692.9" r="5.7" fill="#0000FF"/>
<circle cx="609.4" cy="1737.3" r="5.7" fill="#0000FF"/>
<path d="M639.4 1802.6 L639.4 1727.9 L665.6 1727.9 L665.6 1802.6" fill="#D9B3D9" stroke="#800080" stroke-width="3.6" stroke-linejoin="miter"/>
<rect x="646.7" y="1726.1" width="10.8" height="15.3" fill="#fff"/>
<line x1="652.1" y1="1714.7" x2="652.1" y2="1738.6" stroke="#800080" stroke-width="5.6"/>
<circle cx="644.3" cy="1713.3" r="5.7" fill="#800080"/>
<circle cx="660.7" cy="1720" r="5.7" fill="#800080"/>
<circle cx="644.3" cy="1747.9" r="5.7" fill="#800080"/>
<path d="M710.4 1802.6 L710.4 1733.2 L736.1 1733.2 L736.1 1802.6" fill="#B3B3B3" stroke="#000000" stroke-width="3.6" stroke-linejoin="miter"/>
<rect x="717.9" y="1731.4" width="10.8" height="12.7" fill="#fff"/>
<line x1="723.3" y1="1726.6" x2="723.3" y2="1741.3" stroke="#000000" stroke-width="5.6"/>
<circle cx="715.3" cy="1728" r="5.7" fill="#000000"/>
<circle cx="731.8" cy="1725.3" r="4.2" fill="#fff" stroke="#000000" stroke-width="2.6"/>
<circle cx="715.3" cy="1744" r="5.7" fill="#000000"/>
<path d="M745.5 1802.6 L745.5 1733.8 L771.4 1733.8 L771.4 1802.6" fill="#E8BDBD" stroke="#B22222" stroke-width="3.6" stroke-linejoin="miter"/>
<rect x="753" y="1732" width="10.8" height="8.1" fill="#fff"/>
<line x1="758.4" y1="1729.3" x2="758.4" y2="1737.3" stroke="#B22222" stroke-width="5.6"/>
<circle cx="750.6" cy="1727.2" r="5.7" fill="#B22222"/>
<circle cx="767.1" cy="1733.3" r="5.7" fill="#B22222"/>
<circle cx="750.6" cy="1735.2" r="5.7" fill="#B22222"/>
<path d="M780.9 1802.6 L780.9 1746.5 L807.1 1746.5 L807.1 1802.6" fill="#B3B3FF" stroke="#0000FF" stroke-width="3.6" stroke-linejoin="miter"/>
<rect x="788.2" y="1744.7" width="10.8" height="11.3" fill="#fff"/>
<line x1="793.6" y1="1737.3" x2="793.6" y2="1753.2" stroke="#0000FF" stroke-width="5.6"/>
<circle cx="785.7" cy="1743.1" r="5.7" fill="#0000FF"/>
<circle cx="802.2" cy="1736" r="5.7" fill="#0000FF"/>
<circle cx="785.7" cy="1756.7" r="5.7" fill="#0000FF"/>
<path d="M816 1802.6 L816 1752.4 L841.9 1752.4 L841.9 1802.6" fill="#D9B3D9" stroke="#800080" stroke-width="3.6" stroke-linejoin="miter"/>
<rect x="823.5" y="1750.6" width="10.8" height="12.1" fill="#fff"/>
<line x1="828.9" y1="1741.3" x2="828.9" y2="1759.9" stroke="#800080" stroke-width="5.6"/>
<circle cx="821.1" cy="1740.5" r="5.7" fill="#800080"/>
<circle cx="837.6" cy="1749.3" r="5.7" fill="#800080"/>
<circle cx="821.1" cy="1764.7" r="5.7" fill="#800080"/>
<text x="726.4" y="1524.8" font-size="23.6" textLength="62" lengthAdjust="spacingAndGlyphs">siRNA</text>
<rect x="704.1" y="1540.7" width="34.8" height="16.8" fill="#B3B3B3" stroke="#000000" stroke-width="3.2"/>
<text x="751.7" y="1556" font-size="23.6" textLength="80.6" lengthAdjust="spacingAndGlyphs">Control</text>
<rect x="703.8" y="1571.8" width="35.4" height="18.4" fill="#E8BDBD" stroke="#B22222" stroke-width="2.6"/>
<text x="751.7" y="1587.9" font-size="23.6" textLength="86.4" lengthAdjust="spacingAndGlyphs">RBFOX2</text>
<rect x="703.8" y="1603.7" width="35.4" height="18.5" fill="#B3B3FF" stroke="#0000FF" stroke-width="2.6"/>
<text x="751.7" y="1620" font-size="23.6" textLength="36.7" lengthAdjust="spacingAndGlyphs">QKI</text>
<rect x="703.8" y="1636.2" width="35.4" height="17.9" fill="#D9B3D9" stroke="#800080" stroke-width="2.6"/>
<text x="751.7" y="1651.9" font-size="23.6" textLength="149.2" lengthAdjust="spacingAndGlyphs">QKI + RBFOX2</text>
<rect x="208.8" y="1843.2" width="99.6" height="8.4" fill="#FF6600"/>
<rect x="181" y="1834.4" width="28" height="26" fill="#FF6600"/>
<rect x="230.1" y="1843.2" width="19.6" height="8.4" fill="#0000FF"/>
<rect x="268.1" y="1843.2" width="19.1" height="8.4" fill="#8B0000"/>
<rect x="385.1" y="1843.2" width="98.8" height="8.4" fill="#FF6600"/>
<rect x="356.8" y="1834.4" width="28.5" height="26" fill="#FF6600"/>
<rect x="406" y="1843.2" width="19.6" height="8.4" fill="#0000FF"/>
<rect x="443.4" y="1843.2" width="19.7" height="8.4" fill="#808080"/>
<rect x="566.1" y="1843.2" width="99.2" height="8.4" fill="#FF6600"/>
<rect x="538.4" y="1834.4" width="27.9" height="26" fill="#FF6600"/>
<rect x="587.6" y="1843.2" width="19.4" height="8.4" fill="#808080"/>
<rect x="624.8" y="1843.2" width="19.5" height="8.4" fill="#8B0000"/>
<rect x="742.5" y="1843.2" width="98.5" height="8.4" fill="#FF6600"/>
<rect x="714.5" y="1834.4" width="28.2" height="26" fill="#FF6600"/>
<rect x="763.7" y="1843.2" width="19.4" height="8.4" fill="#808080"/>
<rect x="800.9" y="1843.2" width="19.4" height="8.4" fill="#808080"/>
<use href="#catB" fill="#5F8FD6" transform="translate(220.75 1823.14) scale(0.99 0.94)"/>
<use href="#catB" fill="#D96060" transform="translate(258.55 1823.54) scale(0.99 0.94)"/>
<use href="#catT" fill="#5F8FD6" transform="translate(396.65 1822.95) scale(1.02 0.99)"/>
<use href="#catT" fill="#D96060" transform="translate(615.34 1823.15) scale(1.04 1)"/>
<text x="83" y="1891.8" font-size="27.3" textLength="118" lengthAdjust="spacingAndGlyphs">QKI motif</text>
<text x="40.4" y="1930.6" font-size="27.3" textLength="160.5" lengthAdjust="spacingAndGlyphs">RBFOX motif</text>
<text x="248.5" y="1891.5" font-size="23.6" text-anchor="middle">+</text>
<text x="248.5" y="1929.5" font-size="23.6" text-anchor="middle">+</text>
<text x="424.3" y="1891.5" font-size="23.6" text-anchor="middle">+</text>
<text x="424.3" y="1928.1" font-size="23.6" text-anchor="middle">–</text>
<text x="607" y="1890.1" font-size="23.6" text-anchor="middle">–</text>
<text x="607" y="1929.5" font-size="23.6" text-anchor="middle">+</text>
<text x="782.3" y="1890.1" font-size="23.6" text-anchor="middle">–</text>
<text x="782.3" y="1928.1" font-size="23.6" text-anchor="middle">–</text>
<text transform="translate(921.37 813.3) scale(1.1 1)" x="0" y="0" font-size="40" font-weight="bold" stroke="#000" stroke-width="0.9" stroke-linejoin="round">i</text>
<rect x="952.4" y="810.4" width="67.5" height="37.16" fill="#DC143C"/>
<rect x="1019.9" y="810.4" width="67.7" height="37.16" fill="#DC143C"/>
<rect x="1087.6" y="810.4" width="67.7" height="37.16" fill="#E5E5E5"/>
<rect x="952.4" y="847.56" width="67.5" height="37.16" fill="#DC143C"/>
<rect x="1019.9" y="847.56" width="67.7" height="37.16" fill="#DC143C"/>
<rect x="1087.6" y="847.56" width="67.7" height="37.16" fill="#E5E5E5"/>
<rect x="952.4" y="884.73" width="67.5" height="37.16" fill="#DC143C"/>
<rect x="1019.9" y="884.73" width="67.7" height="37.16" fill="#DC143C"/>
<rect x="1087.6" y="884.73" width="67.7" height="37.16" fill="#E5E5E5"/>
<rect x="952.4" y="921.89" width="67.5" height="37.16" fill="#DC143C"/>
<rect x="1019.9" y="921.89" width="67.7" height="37.16" fill="#DC143C"/>
<rect x="1087.6" y="921.89" width="67.7" height="37.16" fill="#DC143C"/>
<rect x="952.4" y="959.06" width="67.5" height="37.16" fill="#DC143C"/>
<rect x="1019.9" y="959.06" width="67.7" height="37.16" fill="#DC143C"/>
<rect x="1087.6" y="959.06" width="67.7" height="37.16" fill="#DC143C"/>
<rect x="952.4" y="996.22" width="67.5" height="37.16" fill="#DC143C"/>
<rect x="1019.9" y="996.22" width="67.7" height="37.16" fill="#DC143C"/>
<rect x="1087.6" y="996.22" width="67.7" height="37.16" fill="#DC143C"/>
<rect x="952.4" y="1033.39" width="67.5" height="37.16" fill="#DC143C"/>
<rect x="1019.9" y="1033.39" width="67.7" height="37.16" fill="#DC143C"/>
<rect x="1087.6" y="1033.39" width="67.7" height="37.16" fill="#DC143C"/>
<rect x="952.4" y="1070.55" width="67.5" height="37.16" fill="#DC143C"/>
<rect x="1019.9" y="1070.55" width="67.7" height="37.16" fill="#DC143C"/>
<rect x="1087.6" y="1070.55" width="67.7" height="37.16" fill="#DC143C"/>
<rect x="952.4" y="1107.72" width="67.5" height="37.16" fill="#E5E5E5"/>
<rect x="1019.9" y="1107.72" width="67.7" height="37.16" fill="#DC143C"/>
<rect x="1087.6" y="1107.72" width="67.7" height="37.16" fill="#DC143C"/>
<rect x="952.4" y="1144.88" width="67.5" height="37.16" fill="#E5E5E5"/>
<rect x="1019.9" y="1144.88" width="67.7" height="37.16" fill="#E5E5E5"/>
<rect x="1087.6" y="1144.88" width="67.7" height="37.16" fill="#DC143C"/>
<rect x="952.4" y="1182.05" width="67.5" height="37.16" fill="#E5E5E5"/>
<rect x="1019.9" y="1182.05" width="67.7" height="37.16" fill="#E5E5E5"/>
<rect x="1087.6" y="1182.05" width="67.7" height="37.16" fill="#DC143C"/>
<rect x="952.4" y="1219.21" width="67.5" height="37.16" fill="#E5E5E5"/>
<rect x="1019.9" y="1219.21" width="67.7" height="37.16" fill="#E5E5E5"/>
<rect x="1087.6" y="1219.21" width="67.7" height="37.16" fill="#E5E5E5"/>
<rect x="952.4" y="1256.38" width="67.5" height="37.16" fill="#E5E5E5"/>
<rect x="1019.9" y="1256.38" width="67.7" height="37.16" fill="#E5E5E5"/>
<rect x="1087.6" y="1256.38" width="67.7" height="37.16" fill="#E5E5E5"/>
<rect x="952.4" y="1293.55" width="67.5" height="37.16" fill="#E5E5E5"/>
<rect x="1019.9" y="1293.55" width="67.7" height="37.16" fill="#E5E5E5"/>
<rect x="1087.6" y="1293.55" width="67.7" height="37.16" fill="#E5E5E5"/>
<rect x="952.4" y="1330.71" width="67.5" height="37.16" fill="#E5E5E5"/>
<rect x="1019.9" y="1330.71" width="67.7" height="37.16" fill="#E5E5E5"/>
<rect x="1087.6" y="1330.71" width="67.7" height="37.16" fill="#E5E5E5"/>
<rect x="952.4" y="1367.88" width="67.5" height="37.16" fill="#E5E5E5"/>
<rect x="1019.9" y="1367.88" width="67.7" height="37.16" fill="#E5E5E5"/>
<rect x="1087.6" y="1367.88" width="67.7" height="37.16" fill="#E5E5E5"/>
<rect x="952.4" y="1405.04" width="67.5" height="37.16" fill="#E5E5E5"/>
<rect x="1019.9" y="1405.04" width="67.7" height="37.16" fill="#E5E5E5"/>
<rect x="1087.6" y="1405.04" width="67.7" height="37.16" fill="#E5E5E5"/>
<rect x="952.4" y="1442.2" width="67.5" height="37.16" fill="#E5E5E5"/>
<rect x="1019.9" y="1442.2" width="67.7" height="37.16" fill="#E5E5E5"/>
<rect x="1087.6" y="1442.2" width="67.7" height="37.16" fill="#E5E5E5"/>
<rect x="952.4" y="1479.37" width="67.5" height="37.16" fill="#E5E5E5"/>
<rect x="1019.9" y="1479.37" width="67.7" height="37.16" fill="#E5E5E5"/>
<rect x="1087.6" y="1479.37" width="67.7" height="37.16" fill="#E5E5E5"/>
<rect x="952.4" y="1516.53" width="67.5" height="37.16" fill="#E5E5E5"/>
<rect x="1019.9" y="1516.53" width="67.7" height="37.16" fill="#E5E5E5"/>
<rect x="1087.6" y="1516.53" width="67.7" height="37.16" fill="#E5E5E5"/>
<line x1="952.4" y1="810.4" x2="1155.3" y2="810.4" stroke="#111" stroke-width="1.3"/>
<line x1="952.4" y1="847.56" x2="1155.3" y2="847.56" stroke="#111" stroke-width="1.3"/>
<line x1="952.4" y1="884.73" x2="1155.3" y2="884.73" stroke="#111" stroke-width="1.3"/>
<line x1="952.4" y1="921.89" x2="1155.3" y2="921.89" stroke="#111" stroke-width="1.3"/>
<line x1="952.4" y1="959.06" x2="1155.3" y2="959.06" stroke="#111" stroke-width="1.3"/>
<line x1="952.4" y1="996.22" x2="1155.3" y2="996.22" stroke="#111" stroke-width="1.3"/>
<line x1="952.4" y1="1033.39" x2="1155.3" y2="1033.39" stroke="#111" stroke-width="1.3"/>
<line x1="952.4" y1="1070.55" x2="1155.3" y2="1070.55" stroke="#111" stroke-width="1.3"/>
<line x1="952.4" y1="1107.72" x2="1155.3" y2="1107.72" stroke="#111" stroke-width="1.3"/>
<line x1="952.4" y1="1144.88" x2="1155.3" y2="1144.88" stroke="#111" stroke-width="1.3"/>
<line x1="952.4" y1="1182.05" x2="1155.3" y2="1182.05" stroke="#111" stroke-width="1.3"/>
<line x1="952.4" y1="1219.21" x2="1155.3" y2="1219.21" stroke="#111" stroke-width="1.3"/>
<line x1="952.4" y1="1256.38" x2="1155.3" y2="1256.38" stroke="#111" stroke-width="1.3"/>
<line x1="952.4" y1="1293.55" x2="1155.3" y2="1293.55" stroke="#111" stroke-width="1.3"/>
<line x1="952.4" y1="1330.71" x2="1155.3" y2="1330.71" stroke="#111" stroke-width="1.3"/>
<line x1="952.4" y1="1367.88" x2="1155.3" y2="1367.88" stroke="#111" stroke-width="1.3"/>
<line x1="952.4" y1="1405.04" x2="1155.3" y2="1405.04" stroke="#111" stroke-width="1.3"/>
<line x1="952.4" y1="1442.2" x2="1155.3" y2="1442.2" stroke="#111" stroke-width="1.3"/>
<line x1="952.4" y1="1479.37" x2="1155.3" y2="1479.37" stroke="#111" stroke-width="1.3"/>
<line x1="952.4" y1="1516.53" x2="1155.3" y2="1516.53" stroke="#111" stroke-width="1.3"/>
<line x1="952.4" y1="809.8" x2="952.4" y2="1856.4" stroke="#111" stroke-width="1.4"/>
<line x1="1019.9" y1="809.8" x2="1019.9" y2="1856.4" stroke="#111" stroke-width="1.4"/>
<line x1="1087.6" y1="809.8" x2="1087.6" y2="1856.4" stroke="#111" stroke-width="1.4"/>
<line x1="1155.3" y1="809.8" x2="1155.3" y2="1856.4" stroke="#111" stroke-width="1.4"/>
<line x1="1155.3" y1="828.98" x2="1167.3" y2="828.98" stroke="#111" stroke-width="1.3"/>
<text x="1177.9" y="836.1" font-size="22.5" textLength="219.3" lengthAdjust="spacingAndGlyphs">MYO9B (myosin IXB)</text>
<line x1="1155.3" y1="866.15" x2="1167.3" y2="866.15" stroke="#111" stroke-width="1.3"/>
<text x="1177.9" y="873.32" font-size="22.5" textLength="171.4" lengthAdjust="spacingAndGlyphs">UTRN (utrophin)</text>
<line x1="1155.3" y1="903.31" x2="1167.3" y2="903.31" stroke="#111" stroke-width="1.3"/>
<text x="1177.9" y="910.54" font-size="22.5" textLength="564.5" lengthAdjust="spacingAndGlyphs">MPRIP (myosin phosphatase Rho-interacting protein)</text>
<line x1="1155.3" y1="940.48" x2="1167.3" y2="940.48" stroke="#111" stroke-width="1.3"/>
<text x="1177.9" y="947.76" font-size="22.5" textLength="396.9" lengthAdjust="spacingAndGlyphs">DIAPH1 (diaphanous related formin 1)</text>
<line x1="1155.3" y1="977.64" x2="1167.3" y2="977.64" stroke="#111" stroke-width="1.3"/>
<text x="1177.9" y="984.98" font-size="22.5" textLength="541.3" lengthAdjust="spacingAndGlyphs">NF2 (moesin–ezrin–radixin-like tumor suppression)</text>
<line x1="1155.3" y1="1014.81" x2="1167.3" y2="1014.81" stroke="#111" stroke-width="1.3"/>
<text x="1177.9" y="1022.2" font-size="22.5" textLength="617.2" lengthAdjust="spacingAndGlyphs">MICAL3 (microtubule associated MO, calponin and LIM...)</text>
<line x1="1155.3" y1="1051.97" x2="1167.3" y2="1051.97" stroke="#111" stroke-width="1.3"/>
<text x="1177.9" y="1059.42" font-size="22.5" textLength="577.4" lengthAdjust="spacingAndGlyphs">EPB41L1 (erythrocyte membrane protein band 4.1-like)</text>
<line x1="1155.3" y1="1089.14" x2="1167.3" y2="1089.14" stroke="#111" stroke-width="1.3"/>
<text x="1177.9" y="1096.64" font-size="22.5" textLength="258" lengthAdjust="spacingAndGlyphs">MYO18A (myosin XVIIIA)</text>
<line x1="1155.3" y1="1126.3" x2="1167.3" y2="1126.3" stroke="#111" stroke-width="1.3"/>
<text x="1177.9" y="1133.86" font-size="22.5" textLength="522.1" lengthAdjust="spacingAndGlyphs">NDEL1 (nudE neurodevelopment protein 11-like 1)</text>
<line x1="1155.3" y1="1163.47" x2="1167.3" y2="1163.47" stroke="#111" stroke-width="1.3"/>
<text x="1177.9" y="1171.08" font-size="22.5" textLength="584.8" lengthAdjust="spacingAndGlyphs">PRPF40A (pre-mRNA processing factor 40 homolog A)</text>
<line x1="1155.3" y1="1200.63" x2="1167.3" y2="1200.63" stroke="#111" stroke-width="1.3"/>
<text x="1177.9" y="1208.3" font-size="22.5" textLength="412.4" lengthAdjust="spacingAndGlyphs">AKAP11 (A-kinase-anchoring protein 11)</text>
<line x1="1155.3" y1="1237.8" x2="1167.3" y2="1237.8" stroke="#111" stroke-width="1.3"/>
<text x="1177.9" y="1245.52" font-size="22.5" textLength="376.6" lengthAdjust="spacingAndGlyphs">DOCK6 (dedicator of cytokinesis 6)</text>
<line x1="1155.3" y1="1274.96" x2="1167.3" y2="1274.96" stroke="#111" stroke-width="1.3"/>
<text x="1177.9" y="1282.74" font-size="22.5" textLength="584.1" lengthAdjust="spacingAndGlyphs">RALGAPA1 (Ral GTPase-activating protein catalytic s...)</text>
<line x1="1155.3" y1="1312.13" x2="1167.3" y2="1312.13" stroke="#111" stroke-width="1.3"/>
<text x="1177.9" y="1319.96" font-size="22.5" textLength="343.5" lengthAdjust="spacingAndGlyphs">ZNF267 (zinc finger protein 267)</text>
<line x1="1155.3" y1="1349.29" x2="1167.3" y2="1349.29" stroke="#111" stroke-width="1.3"/>
<text x="1177.9" y="1357.18" font-size="22.5" textLength="486.1" lengthAdjust="spacingAndGlyphs">ARHGAP17 (Rho GTPase-activating protein 17)</text>
<line x1="1155.3" y1="1386.46" x2="1167.3" y2="1386.46" stroke="#111" stroke-width="1.3"/>
<text x="1177.9" y="1394.4" font-size="22.5" textLength="386.9" lengthAdjust="spacingAndGlyphs">CSNK1G3 (casein kinase 1 gamma 3)</text>
<line x1="1155.3" y1="1423.62" x2="1167.3" y2="1423.62" stroke="#111" stroke-width="1.3"/>
<text x="1177.9" y="1431.62" font-size="22.5" textLength="583.3" lengthAdjust="spacingAndGlyphs">UAP1 (UDP-<tspan font-style="italic">N</tspan>-acetylglucosamine pyrophosphorylase 1)</text>
<line x1="1155.3" y1="1460.79" x2="1167.3" y2="1460.79" stroke="#111" stroke-width="1.3"/>
<text x="1177.9" y="1468.84" font-size="22.5" textLength="398.7" lengthAdjust="spacingAndGlyphs">NADK2 (NAD kinase 2, mitochondrial)</text>
<line x1="1155.3" y1="1497.95" x2="1167.3" y2="1497.95" stroke="#111" stroke-width="1.3"/>
<text x="1177.9" y="1506.06" font-size="22.5" textLength="295.6" lengthAdjust="spacingAndGlyphs">CLTC (clathrin heavy chain)</text>
<line x1="1155.3" y1="1535.12" x2="1167.3" y2="1535.12" stroke="#111" stroke-width="1.3"/>
<text x="1177.9" y="1543.28" font-size="22.5" textLength="197.2" lengthAdjust="spacingAndGlyphs">CAST (calpastatin)</text>
<line x1="951.8" y1="1553.7" x2="1461.4" y2="1553.7" stroke="#111" stroke-width="1.4"/>
<line x1="951.8" y1="1596.5" x2="1461.4" y2="1596.5" stroke="#111" stroke-width="1.4"/>
<line x1="951.8" y1="1645.4" x2="1461.4" y2="1645.4" stroke="#111" stroke-width="1.4"/>
<text x="1165.8" y="1585.6" font-size="23.6" textLength="122.7" lengthAdjust="spacingAndGlyphs">Enrichment</text>
<text x="1165.8" y="1628.4" font-size="23.6" textLength="212.6" lengthAdjust="spacingAndGlyphs">False discovery rate</text>
<text x="985.2" y="1586.6" font-size="19.3" text-anchor="middle" textLength="36.5" lengthAdjust="spacingAndGlyphs">14.8</text>
<text x="1054" y="1586.6" font-size="19.3" text-anchor="middle" textLength="28" lengthAdjust="spacingAndGlyphs">6.8</text>
<text x="1120.1" y="1587.4" font-size="19.3" text-anchor="middle" textLength="28" lengthAdjust="spacingAndGlyphs">6.4</text>
<text x="953.6" y="1631.6" font-size="19.3" textLength="62.4" lengthAdjust="spacingAndGlyphs">7 × 10<tspan dy="-9.3" font-size="12">–5</tspan></text>
<text x="1022.5" y="1631.6" font-size="19.3" textLength="64" lengthAdjust="spacingAndGlyphs">3 × 10<tspan dy="-9.3" font-size="12">–3</tspan></text>
<text x="1120.6" y="1631.6" font-size="19.3" text-anchor="middle" textLength="40.4" lengthAdjust="spacingAndGlyphs">0.07</text>
<text x="0" y="0" font-size="19.8" text-anchor="middle" textLength="116.8" lengthAdjust="spacingAndGlyphs" transform="translate(993.7 1728.5) rotate(-90)">Actin binding</text>
<text x="0" y="0" font-size="19.8" text-anchor="middle" textLength="108.4" lengthAdjust="spacingAndGlyphs" transform="translate(1047.4 1738.6) rotate(-90)">Cytoskeletal</text>
<text x="0" y="0" font-size="19.8" text-anchor="middle" textLength="134" lengthAdjust="spacingAndGlyphs" transform="translate(1074.4 1739) rotate(-90)">protein binding</text>
<text x="0" y="0" font-size="19.8" text-anchor="middle" textLength="114.8" lengthAdjust="spacingAndGlyphs" transform="translate(1114.3 1727) rotate(-90)">Cytoskeleton</text>
<text x="0" y="0" font-size="19.8" text-anchor="middle" textLength="109.2" lengthAdjust="spacingAndGlyphs" transform="translate(1141.1 1726.7) rotate(-90)">organization</text>
</svg>
</body></html>
